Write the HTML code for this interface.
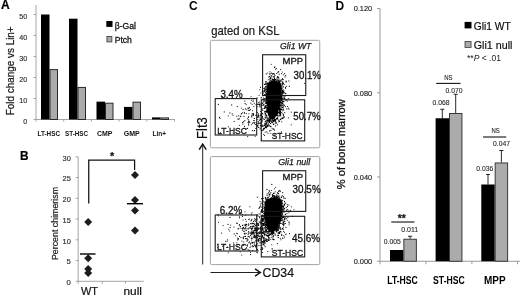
<!DOCTYPE html>
<html><head><meta charset="utf-8"><title>Figure</title>
<style>html,body{margin:0;padding:0;background:#fff}svg{display:block;filter:blur(0.35px);font-family:'Liberation Sans', sans-serif}</style>
</head><body>
<svg width="520" height="297" viewBox="0 0 520 297">
<rect width="520" height="297" fill="#fff"/>
<text x="0.9" y="9.3" font-size="12.06" text-anchor="start" font-weight="bold" stroke="#000" stroke-width="0.2" fill="#000">A</text>
<text x="14" y="70.8" font-size="10.4" text-anchor="middle" textLength="88.8" lengthAdjust="spacingAndGlyphs" transform="rotate(-90 14 70.8)" stroke="#1a1a1a" stroke-width="0.25" fill="#1a1a1a">Fold change vs Lin+</text>
<line x1="36.00" y1="5.00" x2="36.00" y2="119.50" stroke="#8f8f8f" stroke-width="0.8"/>
<line x1="36.00" y1="119.50" x2="175.00" y2="119.50" stroke="#8f8f8f" stroke-width="0.8"/>
<line x1="33.50" y1="119.50" x2="36.00" y2="119.50" stroke="#8f8f8f" stroke-width="0.8"/>
<text x="27.2" y="123.8" font-size="8.11" text-anchor="end" textLength="4" lengthAdjust="spacingAndGlyphs" stroke="#2a2a2a" stroke-width="0.15" fill="#2a2a2a">0</text>
<line x1="33.50" y1="98.50" x2="36.00" y2="98.50" stroke="#8f8f8f" stroke-width="0.8"/>
<text x="27.2" y="102.8" font-size="8.11" text-anchor="end" textLength="8" lengthAdjust="spacingAndGlyphs" stroke="#2a2a2a" stroke-width="0.15" fill="#2a2a2a">10</text>
<line x1="33.50" y1="77.50" x2="36.00" y2="77.50" stroke="#8f8f8f" stroke-width="0.8"/>
<text x="27.2" y="81.8" font-size="8.11" text-anchor="end" textLength="8" lengthAdjust="spacingAndGlyphs" stroke="#2a2a2a" stroke-width="0.15" fill="#2a2a2a">20</text>
<line x1="33.50" y1="56.50" x2="36.00" y2="56.50" stroke="#8f8f8f" stroke-width="0.8"/>
<text x="27.2" y="60.8" font-size="8.11" text-anchor="end" textLength="8" lengthAdjust="spacingAndGlyphs" stroke="#2a2a2a" stroke-width="0.15" fill="#2a2a2a">30</text>
<line x1="33.50" y1="35.50" x2="36.00" y2="35.50" stroke="#8f8f8f" stroke-width="0.8"/>
<text x="27.2" y="39.8" font-size="8.11" text-anchor="end" textLength="8" lengthAdjust="spacingAndGlyphs" stroke="#2a2a2a" stroke-width="0.15" fill="#2a2a2a">40</text>
<line x1="33.50" y1="14.50" x2="36.00" y2="14.50" stroke="#8f8f8f" stroke-width="0.8"/>
<text x="27.2" y="18.8" font-size="8.11" text-anchor="end" textLength="8" lengthAdjust="spacingAndGlyphs" stroke="#2a2a2a" stroke-width="0.15" fill="#2a2a2a">50</text>
<rect x="41.00" y="14.50" width="8.50" height="105.00" fill="#000"/>
<rect x="50.00" y="69.60" width="7.50" height="49.90" fill="#ababab" stroke="#2a2a2a" stroke-width="1.0"/>
<rect x="69.00" y="18.70" width="8.50" height="100.80" fill="#000"/>
<rect x="78.00" y="87.45" width="7.50" height="32.05" fill="#ababab" stroke="#2a2a2a" stroke-width="1.0"/>
<rect x="96.50" y="101.65" width="8.50" height="17.85" fill="#000"/>
<rect x="105.50" y="103.20" width="7.50" height="16.30" fill="#ababab" stroke="#2a2a2a" stroke-width="1.0"/>
<rect x="124.00" y="106.90" width="8.50" height="12.60" fill="#000"/>
<rect x="133.00" y="102.15" width="7.50" height="17.35" fill="#ababab" stroke="#2a2a2a" stroke-width="1.0"/>
<rect x="152.00" y="117.40" width="8.50" height="2.10" fill="#000"/>
<rect x="161.00" y="117.90" width="7.50" height="1.60" fill="#ababab" stroke="#2a2a2a" stroke-width="1.0"/>
<line x1="36.00" y1="119.50" x2="36.00" y2="121.50" stroke="#8f8f8f" stroke-width="0.8"/>
<line x1="63.70" y1="119.50" x2="63.70" y2="121.50" stroke="#8f8f8f" stroke-width="0.8"/>
<line x1="91.40" y1="119.50" x2="91.40" y2="121.50" stroke="#8f8f8f" stroke-width="0.8"/>
<line x1="119.10" y1="119.50" x2="119.10" y2="121.50" stroke="#8f8f8f" stroke-width="0.8"/>
<line x1="146.80" y1="119.50" x2="146.80" y2="121.50" stroke="#8f8f8f" stroke-width="0.8"/>
<line x1="174.50" y1="119.50" x2="174.50" y2="121.50" stroke="#8f8f8f" stroke-width="0.8"/>
<text x="37.5" y="136.3" font-size="7.28" text-anchor="start" font-weight="bold" textLength="22.5" lengthAdjust="spacingAndGlyphs" fill="#111">LT-HSC</text>
<text x="65" y="136.3" font-size="7.28" text-anchor="start" font-weight="bold" textLength="23" lengthAdjust="spacingAndGlyphs" fill="#111">ST-HSC</text>
<text x="97" y="136.3" font-size="7.28" text-anchor="start" font-weight="bold" textLength="15.5" lengthAdjust="spacingAndGlyphs" fill="#111">CMP</text>
<text x="123.8" y="136.3" font-size="7.28" text-anchor="start" font-weight="bold" textLength="16" lengthAdjust="spacingAndGlyphs" fill="#111">GMP</text>
<text x="152.5" y="136.3" font-size="7.28" text-anchor="start" font-weight="bold" textLength="13.5" lengthAdjust="spacingAndGlyphs" fill="#111">Lin+</text>
<rect x="106.30" y="21.00" width="6.20" height="5.90" fill="#000"/>
<text x="114.7" y="28.5" font-size="8.94" text-anchor="start" textLength="21.3" lengthAdjust="spacingAndGlyphs" stroke="#151515" stroke-width="0.3" fill="#151515">β-Gal</text>
<rect x="106.95" y="36.45" width="4.90" height="5.45" fill="#ababab" stroke="#444" stroke-width="0.9"/>
<text x="114.7" y="43.1" font-size="8.94" text-anchor="start" textLength="17.2" lengthAdjust="spacingAndGlyphs" stroke="#151515" stroke-width="0.3" fill="#151515">Ptch</text>
<text x="19.9" y="160" font-size="11.86" text-anchor="start" font-weight="bold" stroke="#000" stroke-width="0.2" fill="#000">B</text>
<text x="58.4" y="223.5" font-size="8.84" text-anchor="middle" textLength="73.1" lengthAdjust="spacingAndGlyphs" transform="rotate(-90 58.4 223.5)" stroke="#1a1a1a" stroke-width="0.2" fill="#1a1a1a">Percent chimerism</text>
<line x1="78.20" y1="156.80" x2="78.20" y2="281.30" stroke="#8f8f8f" stroke-width="0.8"/>
<line x1="78.20" y1="281.30" x2="143.80" y2="281.30" stroke="#8f8f8f" stroke-width="0.8"/>
<line x1="75.70" y1="281.30" x2="78.20" y2="281.30" stroke="#8f8f8f" stroke-width="0.8"/>
<text x="70.8" y="285.2" font-size="8.11" text-anchor="end" textLength="4.3" lengthAdjust="spacingAndGlyphs" stroke="#2a2a2a" stroke-width="0.15" fill="#2a2a2a">0</text>
<line x1="75.70" y1="260.55" x2="78.20" y2="260.55" stroke="#8f8f8f" stroke-width="0.8"/>
<text x="70.8" y="264.45" font-size="8.11" text-anchor="end" textLength="4.3" lengthAdjust="spacingAndGlyphs" stroke="#2a2a2a" stroke-width="0.15" fill="#2a2a2a">5</text>
<line x1="75.70" y1="239.80" x2="78.20" y2="239.80" stroke="#8f8f8f" stroke-width="0.8"/>
<text x="70.8" y="243.70000000000002" font-size="8.11" text-anchor="end" textLength="8.3" lengthAdjust="spacingAndGlyphs" stroke="#2a2a2a" stroke-width="0.15" fill="#2a2a2a">10</text>
<line x1="75.70" y1="219.05" x2="78.20" y2="219.05" stroke="#8f8f8f" stroke-width="0.8"/>
<text x="70.8" y="222.95000000000002" font-size="8.11" text-anchor="end" textLength="8.3" lengthAdjust="spacingAndGlyphs" stroke="#2a2a2a" stroke-width="0.15" fill="#2a2a2a">15</text>
<line x1="75.70" y1="198.30" x2="78.20" y2="198.30" stroke="#8f8f8f" stroke-width="0.8"/>
<text x="70.8" y="202.20000000000002" font-size="8.11" text-anchor="end" textLength="8.3" lengthAdjust="spacingAndGlyphs" stroke="#2a2a2a" stroke-width="0.15" fill="#2a2a2a">20</text>
<line x1="75.70" y1="177.55" x2="78.20" y2="177.55" stroke="#8f8f8f" stroke-width="0.8"/>
<text x="70.8" y="181.45000000000002" font-size="8.11" text-anchor="end" textLength="8.3" lengthAdjust="spacingAndGlyphs" stroke="#2a2a2a" stroke-width="0.15" fill="#2a2a2a">25</text>
<line x1="75.70" y1="156.80" x2="78.20" y2="156.80" stroke="#8f8f8f" stroke-width="0.8"/>
<text x="70.8" y="160.70000000000002" font-size="8.11" text-anchor="end" textLength="8.3" lengthAdjust="spacingAndGlyphs" stroke="#2a2a2a" stroke-width="0.15" fill="#2a2a2a">30</text>
<line x1="78.20" y1="281.30" x2="78.20" y2="283.80" stroke="#8f8f8f" stroke-width="0.8"/>
<line x1="102.20" y1="281.30" x2="102.20" y2="283.80" stroke="#8f8f8f" stroke-width="0.8"/>
<line x1="125.40" y1="281.30" x2="125.40" y2="283.80" stroke="#8f8f8f" stroke-width="0.8"/>
<path d="M84.20 222.00L88.20 218.00L92.20 222.00L88.20 226.00Z" fill="#1c1c1c"/>
<path d="M84.20 258.30L88.20 254.30L92.20 258.30L88.20 262.30Z" fill="#1c1c1c"/>
<path d="M84.20 269.00L88.20 265.00L92.20 269.00L88.20 273.00Z" fill="#1c1c1c"/>
<path d="M84.20 273.00L88.20 269.00L92.20 273.00L88.20 277.00Z" fill="#1c1c1c"/>
<path d="M131.00 175.00L135.00 171.00L139.00 175.00L135.00 179.00Z" fill="#1c1c1c"/>
<path d="M131.00 200.00L135.00 196.00L139.00 200.00L135.00 204.00Z" fill="#1c1c1c"/>
<path d="M131.00 210.50L135.00 206.50L139.00 210.50L135.00 214.50Z" fill="#1c1c1c"/>
<path d="M131.00 230.50L135.00 226.50L139.00 230.50L135.00 234.50Z" fill="#1c1c1c"/>
<line x1="80.00" y1="254.00" x2="95.50" y2="254.00" stroke="#000" stroke-width="1.4"/>
<line x1="127.00" y1="203.70" x2="143.00" y2="203.70" stroke="#000" stroke-width="1.4"/>
<path d="M88.75 203.6V160H134.6V170" fill="none" stroke="#111" stroke-width="1.25"/>
<text x="112.1" y="160.4" font-size="10.92" text-anchor="middle" font-weight="bold" stroke="#111" stroke-width="0.2" fill="#111">*</text>
<text x="81" y="294.7" font-size="10.92" text-anchor="start" textLength="17" lengthAdjust="spacingAndGlyphs" stroke="#111" stroke-width="0.2" fill="#111">WT</text>
<text x="123.5" y="294.7" font-size="10.92" text-anchor="start" textLength="18.5" lengthAdjust="spacingAndGlyphs" stroke="#111" stroke-width="0.2" fill="#111">null</text>
<text x="189" y="9.5" font-size="11.96" text-anchor="start" font-weight="bold" fill="#000">C</text>
<text x="211.3" y="34.5" font-size="11.96" text-anchor="start" textLength="68.2" lengthAdjust="spacingAndGlyphs" stroke="#1a1a1a" stroke-width="0.2" fill="#1a1a1a">gated on KSL</text>
<rect x="210.40" y="40.30" width="109.35" height="107.50" fill="none" stroke="#999" stroke-width="0.9" rx="1.2"/>
<path d="M268.1 103.0h.01M278.4 93.6h.01M267.9 98.3h.01M275.2 110.5h.01M269.2 85.4h.01M276.5 104.0h.01M279.9 109.3h.01M273.5 96.1h.01M285.2 96.0h.01M271.0 87.0h.01M274.1 100.5h.01M272.3 98.3h.01M274.5 106.3h.01M278.4 101.2h.01M265.4 106.4h.01M267.6 97.2h.01M267.3 99.0h.01M270.2 101.2h.01M288.3 98.5h.01M278.3 85.1h.01M272.1 106.0h.01M273.1 102.9h.01M274.8 88.4h.01M276.7 90.5h.01M282.3 93.7h.01M276.8 99.0h.01M278.3 92.7h.01M278.2 97.7h.01M278.9 105.6h.01M274.9 90.8h.01M276.8 103.9h.01M281.2 95.0h.01M275.9 104.3h.01M274.9 101.2h.01M274.9 92.7h.01M269.5 94.8h.01M275.4 114.9h.01M277.4 110.1h.01M276.7 106.3h.01M274.1 107.1h.01M281.8 95.6h.01M269.5 119.6h.01M274.2 109.2h.01M278.3 87.1h.01M283.3 117.6h.01M274.0 106.9h.01M274.9 89.7h.01M273.0 102.9h.01M278.2 106.4h.01M273.1 113.2h.01M269.9 107.3h.01M278.8 95.9h.01M266.4 89.5h.01M274.5 104.5h.01M281.2 88.5h.01M273.3 105.8h.01M274.5 74.1h.01M275.8 123.3h.01M278.7 89.4h.01M271.8 101.3h.01M284.3 105.5h.01M273.3 115.4h.01M272.2 118.5h.01M271.0 94.0h.01M276.0 114.0h.01M276.4 102.2h.01M266.2 91.5h.01M271.4 93.4h.01M276.5 95.5h.01M277.2 99.9h.01M272.2 100.2h.01M275.1 108.0h.01M271.8 96.6h.01M266.7 115.8h.01M280.2 97.1h.01M272.4 86.0h.01M274.4 101.2h.01M283.2 101.6h.01M271.9 73.3h.01M279.8 101.0h.01M266.5 100.9h.01M264.5 135.5h.01M278.3 105.0h.01M274.3 76.5h.01M274.2 82.7h.01M277.7 76.5h.01M269.0 111.8h.01M281.7 86.6h.01M266.4 108.2h.01M278.1 88.6h.01M271.1 91.7h.01M268.9 91.9h.01M278.8 106.2h.01M282.8 98.1h.01M273.8 88.7h.01M274.0 85.2h.01M265.5 106.3h.01M279.5 107.8h.01M279.4 101.6h.01M270.5 99.9h.01M272.8 87.3h.01M267.2 83.4h.01M273.6 100.6h.01M270.8 114.0h.01M274.2 105.1h.01M279.6 90.4h.01M264.6 106.9h.01M269.9 112.8h.01M274.6 109.6h.01M278.4 77.2h.01M277.3 91.9h.01M270.7 94.4h.01M276.6 108.3h.01M279.2 81.6h.01M272.6 74.1h.01M272.9 105.3h.01M270.2 101.6h.01M274.1 109.6h.01M270.6 90.3h.01M269.3 117.4h.01M278.6 97.7h.01M274.7 100.2h.01M274.8 96.8h.01M273.1 85.8h.01M269.9 116.3h.01M276.1 99.7h.01M272.8 99.7h.01M275.7 92.2h.01M274.5 101.5h.01M270.9 90.7h.01M270.0 87.8h.01M279.1 74.2h.01M273.0 92.6h.01M271.0 100.0h.01M278.7 99.8h.01M273.5 92.6h.01M272.6 108.6h.01M272.7 87.0h.01M268.9 87.4h.01M266.9 110.5h.01M275.5 96.5h.01M280.6 92.1h.01M276.5 107.4h.01M267.9 82.7h.01M269.1 108.5h.01M280.2 86.1h.01M278.6 95.0h.01M272.4 93.2h.01M273.5 79.9h.01M270.1 86.0h.01M274.6 120.9h.01M286.0 95.5h.01M266.4 94.7h.01M268.4 119.8h.01M276.7 91.3h.01M277.5 104.6h.01M266.9 93.4h.01M272.7 99.2h.01M274.5 95.4h.01M274.9 92.8h.01M268.8 114.9h.01M275.0 103.6h.01M266.8 97.3h.01M278.2 85.4h.01M278.8 94.9h.01M275.6 97.6h.01M273.9 111.6h.01M271.0 115.4h.01M270.9 89.2h.01M277.5 87.8h.01M271.5 108.5h.01M280.2 80.4h.01M274.8 118.8h.01M279.1 96.5h.01M271.3 95.9h.01M268.8 96.2h.01M273.0 97.5h.01M279.1 96.6h.01M266.7 110.0h.01M269.3 94.3h.01M273.4 95.4h.01M269.5 96.4h.01M283.7 92.6h.01M272.4 110.8h.01M276.5 107.0h.01M278.8 78.3h.01M269.9 100.3h.01M275.1 112.6h.01M276.0 96.5h.01M274.0 96.8h.01M274.4 106.1h.01M272.8 90.5h.01M269.3 110.5h.01M278.8 109.4h.01M277.0 107.7h.01M273.3 106.0h.01M269.2 96.9h.01M270.1 106.6h.01M271.3 97.9h.01M274.6 113.2h.01M270.8 89.1h.01M278.0 87.4h.01M276.1 93.0h.01M274.4 79.9h.01M277.2 93.7h.01M268.5 120.8h.01M274.7 135.8h.01M275.8 95.3h.01M273.2 115.9h.01M273.3 103.7h.01M276.6 89.4h.01M274.6 93.7h.01M267.7 108.2h.01M276.6 99.8h.01M271.0 77.9h.01M275.9 98.0h.01M266.4 98.4h.01M267.1 98.7h.01M274.1 102.7h.01M274.6 100.8h.01M269.0 95.0h.01M271.6 96.5h.01M274.5 105.5h.01M282.6 72.0h.01M275.6 96.9h.01M283.2 108.8h.01M266.2 103.2h.01M270.8 109.4h.01M269.2 97.9h.01M273.2 98.0h.01M272.3 79.7h.01M275.1 109.5h.01M274.1 88.3h.01M274.3 104.9h.01M273.0 98.9h.01M280.6 87.3h.01M272.5 79.0h.01M271.1 91.2h.01M270.0 91.7h.01M281.8 96.9h.01M271.9 122.1h.01M274.6 80.8h.01M276.1 89.2h.01M281.7 85.9h.01M272.2 82.1h.01M274.8 88.3h.01M273.7 95.0h.01M270.4 108.9h.01M277.8 99.7h.01M270.5 87.8h.01M273.4 124.1h.01M272.2 90.8h.01M271.4 87.5h.01M269.6 96.8h.01M280.0 99.0h.01M272.5 82.0h.01M274.7 98.7h.01M269.0 87.6h.01M272.9 109.6h.01M276.4 101.2h.01M272.1 102.4h.01M272.3 121.8h.01M269.0 95.1h.01M279.5 96.2h.01M280.0 98.5h.01M274.6 95.1h.01M268.3 88.8h.01M283.1 105.8h.01M275.8 109.0h.01M275.6 109.7h.01M272.7 96.7h.01M278.3 95.3h.01M268.0 96.6h.01M271.0 105.4h.01M271.2 87.9h.01M271.3 115.3h.01M273.4 100.7h.01M273.6 102.1h.01M276.9 113.7h.01M265.6 113.3h.01M273.9 95.6h.01M284.4 97.2h.01M281.7 109.2h.01M268.9 104.1h.01M277.1 97.7h.01M263.7 95.4h.01M273.6 87.4h.01M281.9 96.4h.01M272.2 95.9h.01M270.8 90.8h.01M274.0 102.3h.01M271.6 98.0h.01M267.3 104.5h.01M270.3 101.3h.01M270.1 93.6h.01M275.4 86.3h.01M284.6 98.6h.01M273.9 91.3h.01M279.9 113.6h.01M275.9 84.6h.01M271.1 105.5h.01M272.2 86.6h.01M269.0 90.9h.01M274.2 92.2h.01M272.1 128.3h.01M282.2 88.1h.01M275.2 99.9h.01M272.5 110.0h.01M272.5 95.6h.01M272.2 97.9h.01M278.9 107.2h.01M268.1 94.4h.01M269.7 107.6h.01M274.2 108.3h.01M274.7 79.0h.01M275.6 101.4h.01M276.8 85.3h.01M274.5 91.8h.01M270.5 102.7h.01M275.9 89.6h.01M267.8 73.0h.01M270.5 110.8h.01M274.9 75.4h.01M269.7 103.4h.01M280.4 111.3h.01M275.2 101.1h.01M269.4 94.3h.01M272.8 90.9h.01M274.3 94.9h.01M274.3 114.1h.01M276.7 103.4h.01M273.6 83.0h.01M272.9 104.7h.01M268.5 112.2h.01M272.0 102.9h.01M273.1 85.8h.01M283.6 86.8h.01M278.1 93.2h.01M275.5 90.5h.01M271.3 108.7h.01M282.8 90.1h.01M273.2 108.9h.01M270.5 106.5h.01M269.9 105.3h.01M274.9 111.7h.01M276.1 86.5h.01M277.4 87.4h.01M276.1 114.9h.01M276.7 93.2h.01M278.9 100.8h.01M268.5 95.3h.01M280.2 95.8h.01M274.5 95.4h.01M266.6 93.6h.01M275.2 101.2h.01M274.3 76.6h.01M278.7 106.6h.01M277.4 112.7h.01M272.2 92.7h.01M274.1 116.6h.01M266.5 96.6h.01M270.2 104.9h.01M280.4 95.9h.01M268.3 99.5h.01M273.5 82.8h.01M278.0 93.5h.01M277.6 85.2h.01M279.5 83.9h.01M279.5 80.0h.01M280.0 95.1h.01M267.0 96.5h.01M275.8 88.6h.01M271.4 101.8h.01M274.9 66.8h.01M271.6 103.5h.01M274.4 109.6h.01M269.1 125.8h.01M277.1 102.3h.01M277.9 109.0h.01M274.6 92.5h.01M278.0 103.4h.01M266.1 87.4h.01M275.7 100.1h.01M274.6 105.7h.01M273.4 115.6h.01M271.4 94.8h.01M274.7 106.8h.01M276.3 114.6h.01M270.9 111.3h.01M276.5 88.1h.01M271.8 120.9h.01M277.5 94.1h.01M263.6 91.3h.01M270.6 99.8h.01M283.4 106.8h.01M275.7 89.2h.01M268.7 96.8h.01M269.8 130.6h.01M272.3 92.5h.01M278.7 99.8h.01M267.5 112.5h.01M273.2 85.0h.01M274.8 104.1h.01M271.8 106.3h.01M277.9 89.7h.01M266.2 73.9h.01M272.4 111.9h.01M277.3 113.6h.01M281.9 99.2h.01M279.3 82.9h.01M276.5 103.1h.01M273.6 94.4h.01M268.7 100.5h.01M279.6 95.1h.01M276.5 92.0h.01M275.5 88.4h.01M275.5 96.7h.01M275.5 92.6h.01M268.8 95.5h.01M277.3 115.6h.01M271.8 107.4h.01M276.8 103.1h.01M266.7 102.4h.01M268.7 111.4h.01M276.8 105.5h.01M262.2 105.5h.01M277.6 85.6h.01M278.0 99.8h.01M273.4 91.5h.01M269.5 94.4h.01M287.2 101.1h.01M275.1 92.2h.01M271.4 93.2h.01M269.3 108.2h.01M272.0 108.1h.01M268.1 108.8h.01M273.2 106.0h.01M273.8 89.7h.01M279.3 94.4h.01M273.7 89.7h.01M274.9 94.9h.01M274.8 102.6h.01M271.6 84.2h.01M275.1 108.6h.01M277.5 87.0h.01M276.2 103.0h.01M274.7 103.5h.01M272.2 101.3h.01M278.1 93.7h.01M267.5 97.9h.01M275.8 79.6h.01M270.4 105.2h.01M273.0 100.0h.01M267.6 108.5h.01M281.6 96.9h.01M271.2 86.8h.01M277.6 100.1h.01M269.5 111.7h.01M276.7 105.3h.01M266.1 97.9h.01M277.3 86.1h.01M276.9 114.0h.01M278.7 91.4h.01M270.0 108.9h.01M277.3 111.9h.01M279.1 98.0h.01M273.1 79.5h.01M275.8 122.9h.01M272.0 94.0h.01M276.4 102.9h.01M268.2 91.5h.01M267.6 120.2h.01M270.0 108.0h.01M281.0 118.9h.01M279.0 116.1h.01M268.5 95.4h.01M270.7 96.0h.01M286.3 81.4h.01M277.0 86.0h.01M278.8 112.6h.01M270.2 120.7h.01M273.2 112.7h.01M275.5 93.1h.01M272.1 97.8h.01M276.4 100.3h.01M284.2 97.0h.01M272.1 91.4h.01M271.2 83.9h.01M268.8 108.5h.01M274.1 97.2h.01M274.6 110.2h.01M276.0 107.1h.01M271.4 96.3h.01M270.4 98.0h.01M270.4 95.1h.01M273.1 96.7h.01M272.9 93.8h.01M279.7 95.4h.01M269.2 101.0h.01M269.6 87.7h.01M275.2 81.5h.01M259.4 102.0h.01M279.3 81.5h.01M269.4 105.1h.01M265.5 89.8h.01M268.6 96.9h.01M264.5 108.4h.01M272.9 102.2h.01M273.6 76.7h.01M273.9 84.9h.01M274.3 90.0h.01M272.5 96.8h.01M276.7 107.1h.01M269.3 98.8h.01M279.9 104.2h.01M270.6 97.7h.01M271.6 108.9h.01M273.7 102.9h.01M284.3 84.5h.01M270.4 80.8h.01M266.2 108.0h.01M274.0 116.1h.01M265.6 89.7h.01M279.4 109.8h.01M277.1 108.2h.01M273.9 98.9h.01M273.4 107.8h.01M272.8 102.4h.01M280.8 87.2h.01M270.1 104.9h.01M272.7 97.4h.01M282.7 103.4h.01M271.2 110.5h.01M285.5 87.4h.01M270.7 100.2h.01M269.6 121.8h.01M276.3 94.8h.01M276.4 90.6h.01M271.0 100.1h.01M285.7 75.4h.01M274.7 113.2h.01M275.8 119.2h.01M275.6 100.5h.01M273.7 90.0h.01M281.7 86.6h.01M273.5 93.5h.01M271.7 75.7h.01M272.0 100.4h.01M273.8 107.9h.01M273.4 92.3h.01M274.7 106.0h.01M270.7 83.0h.01M268.6 110.1h.01M278.7 89.7h.01M273.7 107.8h.01M280.0 92.1h.01M271.8 113.8h.01M283.4 115.1h.01M268.4 103.7h.01M272.5 98.4h.01M271.1 94.0h.01M272.6 117.9h.01M276.5 103.5h.01M274.3 91.1h.01M272.0 112.0h.01M276.2 119.6h.01M274.9 98.8h.01M266.4 103.2h.01M265.2 115.0h.01M271.0 99.0h.01M268.1 93.8h.01M268.9 110.9h.01M275.6 86.6h.01M265.3 98.3h.01M272.3 87.3h.01M276.5 97.1h.01M274.6 92.8h.01M271.5 94.2h.01M266.3 105.6h.01M276.6 80.9h.01M273.5 111.1h.01M274.0 112.6h.01M272.6 99.0h.01M268.6 89.5h.01M266.3 89.6h.01M274.5 104.5h.01M278.8 100.4h.01M269.1 103.5h.01M272.0 117.7h.01M281.8 109.1h.01M269.1 93.5h.01M275.0 91.5h.01M275.6 106.2h.01M277.3 101.4h.01M270.4 90.2h.01M272.4 112.9h.01M280.1 109.3h.01M274.9 106.1h.01M276.5 112.6h.01M278.5 82.9h.01M277.7 103.0h.01M271.4 104.5h.01M275.0 98.4h.01M266.2 100.2h.01M276.2 98.5h.01M266.5 103.8h.01M276.8 100.9h.01M275.8 95.3h.01M270.5 104.5h.01M272.1 100.9h.01M287.6 106.5h.01M275.4 82.0h.01M273.7 107.0h.01M270.8 96.5h.01M263.5 104.8h.01M270.7 106.2h.01M279.8 97.3h.01M277.9 101.6h.01M273.0 96.1h.01M269.2 112.5h.01M278.2 88.4h.01M277.9 91.3h.01M266.4 111.6h.01M267.4 111.4h.01M274.0 108.5h.01M275.3 111.1h.01M274.9 105.1h.01M274.1 110.5h.01M271.4 109.7h.01M280.4 98.3h.01M276.0 93.6h.01M272.3 101.7h.01M272.8 89.7h.01M273.5 101.0h.01M274.7 106.5h.01M265.0 113.8h.01M273.5 90.9h.01M271.8 103.6h.01M277.8 95.2h.01M275.4 82.2h.01M274.6 97.8h.01M271.3 108.3h.01M281.0 109.8h.01M269.3 115.0h.01M272.3 98.6h.01M270.9 103.8h.01M276.1 100.5h.01M272.9 97.5h.01M271.4 109.2h.01M271.5 97.5h.01M273.3 91.1h.01M273.7 83.6h.01M275.2 104.7h.01M271.4 115.3h.01M269.8 104.8h.01M276.2 93.4h.01M272.1 108.3h.01M273.8 102.0h.01M279.7 101.3h.01M266.9 91.3h.01M277.5 97.7h.01M270.3 78.3h.01M274.2 114.7h.01M269.6 76.3h.01M276.3 93.3h.01M272.7 95.6h.01M269.5 103.6h.01M277.5 102.8h.01M270.7 109.9h.01M272.9 105.1h.01M269.2 105.9h.01M276.2 112.5h.01M273.6 103.6h.01M270.7 108.2h.01M276.5 110.3h.01M272.8 86.3h.01M273.6 96.8h.01M270.1 105.3h.01M277.6 103.1h.01M278.3 103.1h.01M269.9 92.9h.01M271.8 106.1h.01M277.7 100.4h.01M278.7 90.5h.01M272.3 114.6h.01M275.0 109.9h.01M266.6 81.7h.01M269.4 109.5h.01M281.2 92.6h.01M270.1 88.5h.01M269.5 104.8h.01M271.2 118.5h.01M277.3 91.9h.01M274.9 97.4h.01M276.6 108.4h.01M271.7 108.3h.01M276.3 98.1h.01M274.4 106.1h.01M272.8 92.0h.01M279.2 99.1h.01M270.9 103.8h.01M267.3 99.6h.01M268.1 94.6h.01M266.5 91.6h.01M277.7 97.2h.01M267.4 117.0h.01M270.1 114.4h.01M272.4 83.9h.01M282.0 94.6h.01M276.3 111.3h.01M268.0 99.8h.01M270.9 105.3h.01M274.5 86.0h.01M273.5 106.9h.01M272.1 104.9h.01M271.5 98.5h.01M275.2 100.5h.01M278.7 108.8h.01M277.0 106.5h.01M275.2 87.1h.01M277.3 117.0h.01M274.9 96.5h.01M272.9 111.5h.01M275.6 89.0h.01M273.5 91.2h.01M273.5 89.9h.01M269.1 114.3h.01M279.3 82.5h.01M269.8 94.5h.01M272.9 84.9h.01M278.6 82.5h.01M276.3 106.2h.01M272.6 92.3h.01M273.9 100.6h.01M265.5 86.2h.01M276.1 98.0h.01M272.6 88.9h.01M271.2 91.2h.01M286.6 86.2h.01M280.1 104.0h.01M274.6 101.1h.01M271.1 115.6h.01M276.0 98.8h.01M273.1 101.1h.01M269.1 95.8h.01M270.7 105.4h.01M277.5 79.9h.01M272.2 109.2h.01M268.9 86.9h.01M278.2 97.8h.01M272.6 86.6h.01M274.8 93.4h.01M274.4 103.5h.01M277.0 95.8h.01M271.5 99.4h.01M273.2 100.9h.01M271.6 96.6h.01M271.6 93.0h.01M273.7 110.9h.01M271.1 105.1h.01M275.2 100.2h.01M277.0 93.4h.01M276.0 102.2h.01M258.5 102.7h.01M275.1 119.2h.01M269.1 100.1h.01M275.9 89.1h.01M278.7 103.7h.01M271.1 86.8h.01M270.5 123.5h.01M284.6 73.6h.01M265.5 105.9h.01M273.7 92.6h.01M276.3 100.1h.01M274.8 101.8h.01M268.3 112.6h.01M271.1 110.7h.01M276.7 99.5h.01M274.4 98.6h.01M266.0 95.7h.01M276.6 82.5h.01M266.7 110.2h.01M278.2 83.2h.01M275.8 98.6h.01M278.2 95.7h.01M273.3 91.3h.01M274.6 97.8h.01M271.2 95.5h.01M270.1 105.5h.01M270.3 83.0h.01M268.9 110.2h.01M271.2 105.7h.01M277.3 93.8h.01M276.7 104.3h.01M274.0 91.8h.01M274.3 85.8h.01M272.9 93.1h.01M275.4 102.6h.01M270.4 108.0h.01M278.9 99.7h.01M270.2 104.3h.01M263.5 93.0h.01M275.0 119.8h.01M269.6 114.9h.01M282.7 118.6h.01M262.8 110.4h.01M274.0 109.6h.01M273.4 92.7h.01M271.8 114.6h.01M277.6 96.0h.01M274.9 108.0h.01M276.2 98.6h.01M271.4 91.3h.01M272.2 93.3h.01M267.8 84.4h.01M278.3 87.4h.01M268.1 98.6h.01M279.3 112.2h.01M272.6 88.3h.01M272.0 89.6h.01M271.1 104.0h.01M269.6 90.9h.01M272.6 98.7h.01M270.9 90.8h.01M269.3 91.2h.01M276.2 96.5h.01M259.8 105.5h.01M274.0 89.9h.01M274.5 67.4h.01M265.8 111.2h.01M281.7 121.8h.01M270.5 99.4h.01M277.9 86.2h.01M281.8 91.5h.01M276.0 87.0h.01M275.4 98.8h.01M279.2 86.9h.01M272.6 118.1h.01M268.3 102.7h.01M276.0 93.8h.01M271.7 113.8h.01M278.4 105.0h.01M275.6 87.1h.01M273.0 117.8h.01M279.2 84.8h.01M265.1 92.0h.01M274.8 93.2h.01M272.2 102.6h.01M277.6 101.2h.01M280.1 84.1h.01M275.5 103.5h.01M266.4 112.2h.01M267.6 83.8h.01M284.7 112.6h.01M274.5 113.2h.01M279.5 87.1h.01M275.0 113.7h.01M273.0 99.8h.01M271.2 106.7h.01M271.7 92.8h.01M268.9 89.2h.01M274.4 104.0h.01M272.7 88.0h.01M275.0 102.8h.01M279.7 93.8h.01M271.6 104.4h.01M280.5 98.5h.01M274.0 89.1h.01M271.5 109.0h.01M276.8 110.8h.01M266.0 107.9h.01M269.3 105.3h.01M263.3 98.0h.01M269.0 112.5h.01M273.5 112.8h.01M270.5 119.8h.01M270.6 119.1h.01M272.2 88.6h.01M278.0 94.8h.01M274.3 84.8h.01M272.1 100.2h.01M270.4 103.2h.01M263.0 108.5h.01M271.0 114.6h.01M272.6 92.1h.01M271.6 102.0h.01M276.7 94.1h.01M269.9 103.6h.01M278.5 80.5h.01M269.5 91.9h.01M280.6 112.1h.01M277.0 104.3h.01M268.1 110.9h.01M272.3 90.6h.01M283.3 83.6h.01M279.8 101.2h.01M269.5 100.9h.01M269.9 101.0h.01M271.6 86.4h.01M285.9 93.7h.01M278.2 98.5h.01M277.6 85.6h.01M271.2 64.2h.01M277.9 103.7h.01M268.0 107.9h.01M274.5 130.1h.01M274.2 108.8h.01M276.0 107.2h.01M273.9 94.6h.01M276.1 112.2h.01M269.3 86.9h.01M272.4 118.2h.01M273.9 81.0h.01M276.9 107.1h.01M282.3 101.1h.01M283.0 91.4h.01M277.7 100.5h.01M268.6 96.1h.01M279.0 110.9h.01M271.4 110.8h.01M277.2 108.6h.01M274.8 102.3h.01M270.1 98.3h.01M274.8 91.2h.01M272.4 100.8h.01M274.0 110.3h.01M269.4 94.8h.01M275.2 95.0h.01M275.5 94.1h.01M279.2 96.6h.01M268.2 107.0h.01M282.4 78.6h.01M273.1 99.8h.01M277.4 115.0h.01M274.1 82.5h.01M276.1 109.8h.01M275.8 99.9h.01M268.6 125.0h.01M269.4 83.1h.01M277.9 102.1h.01M276.5 102.9h.01M280.4 114.2h.01M270.7 109.7h.01M269.6 81.0h.01M279.4 94.5h.01M264.2 98.9h.01M270.5 104.5h.01M274.0 90.9h.01M270.1 107.2h.01M269.6 100.4h.01M269.1 103.9h.01M281.3 105.1h.01M278.4 103.9h.01M269.7 95.9h.01M273.8 103.7h.01M270.7 105.6h.01M270.5 99.8h.01M274.5 86.9h.01M278.2 99.6h.01M274.3 98.7h.01M265.3 84.2h.01M269.2 109.6h.01M270.8 105.5h.01M269.7 90.1h.01M271.0 110.3h.01M266.5 97.2h.01M275.5 100.5h.01M273.2 107.3h.01M275.7 88.4h.01M277.1 90.8h.01M271.3 114.4h.01M283.7 114.5h.01M276.2 90.8h.01M269.3 116.7h.01M276.1 84.4h.01M280.4 105.2h.01M279.4 103.4h.01M264.7 91.3h.01M273.2 97.3h.01M280.9 92.0h.01M273.4 98.5h.01M274.0 88.1h.01M270.0 71.8h.01M275.4 96.9h.01M275.3 87.9h.01M274.4 88.8h.01M269.1 102.6h.01M276.2 105.2h.01M273.8 95.0h.01M279.2 112.2h.01M271.6 87.6h.01M275.2 102.4h.01M268.3 123.2h.01M265.0 90.2h.01M274.2 109.5h.01M265.8 94.5h.01M279.2 113.9h.01M272.6 99.5h.01M269.6 103.2h.01M270.4 77.6h.01M267.0 99.6h.01M267.2 110.8h.01M278.8 109.6h.01M275.9 111.1h.01M274.4 108.2h.01M275.3 107.3h.01M269.7 92.1h.01M268.8 107.8h.01M276.5 90.7h.01M269.7 93.0h.01M277.7 97.9h.01M273.1 91.8h.01M272.2 116.0h.01M270.9 95.3h.01M280.8 106.7h.01M268.0 110.6h.01M267.8 105.0h.01M263.2 88.5h.01M278.2 92.8h.01M270.5 99.6h.01M274.1 94.1h.01M269.6 118.1h.01M280.2 102.6h.01M269.0 93.5h.01M272.2 104.2h.01M281.2 93.6h.01M274.7 94.5h.01M274.8 91.8h.01M274.7 111.3h.01M272.2 95.6h.01M275.1 85.2h.01M282.6 84.9h.01M272.7 89.7h.01M280.7 93.9h.01M270.3 119.1h.01M273.7 90.9h.01M273.6 101.1h.01M270.6 97.1h.01M272.4 106.7h.01M276.6 107.9h.01M272.7 107.5h.01M272.1 111.3h.01M275.8 94.6h.01M280.2 83.1h.01M270.0 90.7h.01M274.0 86.1h.01M269.6 79.1h.01M274.8 91.0h.01M283.0 107.3h.01M267.9 113.0h.01M273.6 110.5h.01M268.1 111.3h.01M278.9 94.7h.01M270.2 95.1h.01M273.4 124.5h.01M280.8 114.9h.01M273.0 95.6h.01M275.6 96.2h.01M271.8 96.9h.01M277.6 98.4h.01M275.0 96.3h.01M273.1 95.6h.01M279.2 101.5h.01M280.5 97.3h.01M279.4 84.5h.01M272.0 98.4h.01M271.0 97.9h.01M269.8 97.4h.01M270.8 99.0h.01M273.1 88.5h.01M271.9 99.4h.01M268.1 100.1h.01M279.4 96.7h.01M275.8 105.7h.01M269.4 113.0h.01M285.5 88.3h.01M283.7 91.6h.01M281.4 80.0h.01M278.7 100.5h.01M268.6 90.4h.01M269.7 89.6h.01M275.6 97.2h.01M262.9 95.8h.01M275.8 100.0h.01M282.4 79.7h.01M274.8 99.4h.01M277.8 84.9h.01M268.1 97.3h.01M275.3 80.0h.01M275.4 99.0h.01M278.7 71.5h.01M276.6 89.7h.01M271.2 107.3h.01M281.2 100.7h.01M272.5 112.9h.01M269.9 97.4h.01M272.2 88.7h.01M273.3 120.6h.01M274.5 104.3h.01M272.9 111.0h.01M275.1 89.8h.01M273.3 114.3h.01M272.6 111.7h.01M272.2 120.5h.01M274.6 106.0h.01M272.0 107.9h.01M273.7 83.4h.01M275.9 86.3h.01M279.8 107.4h.01M273.4 106.4h.01M261.3 115.3h.01M270.5 106.2h.01M286.1 82.0h.01M271.7 102.7h.01M276.7 81.2h.01M268.7 114.8h.01M270.8 104.9h.01M268.3 89.4h.01M265.5 101.9h.01M278.8 100.1h.01M272.4 101.6h.01M276.0 96.0h.01M275.0 119.7h.01M284.0 93.0h.01M267.0 119.3h.01M277.3 111.9h.01M276.6 96.7h.01M277.4 110.9h.01M279.7 87.6h.01M278.6 95.4h.01M272.0 102.8h.01M270.8 123.6h.01M276.1 101.9h.01M272.8 101.7h.01M272.4 105.2h.01M277.1 108.0h.01M268.4 95.6h.01M274.9 86.2h.01M275.5 97.6h.01M273.8 103.1h.01M270.0 115.5h.01M278.7 93.3h.01M275.4 107.0h.01M270.6 95.3h.01M278.5 71.9h.01M267.7 102.6h.01M277.1 89.3h.01M276.2 122.5h.01M274.7 98.7h.01M274.7 88.4h.01M276.1 101.0h.01M276.2 114.2h.01M273.8 101.0h.01M274.1 117.5h.01M267.3 99.1h.01M270.9 100.5h.01M277.4 99.9h.01M276.9 101.1h.01M271.0 92.2h.01M267.5 101.5h.01M271.5 108.0h.01M278.6 89.8h.01M268.6 105.5h.01M269.8 101.3h.01M276.7 95.1h.01M282.1 90.9h.01M275.9 94.8h.01M261.2 97.3h.01M272.7 105.2h.01M273.7 91.4h.01M271.7 95.9h.01M277.3 96.2h.01M278.7 108.2h.01M269.9 110.0h.01M263.8 99.4h.01M269.5 98.1h.01M278.9 99.1h.01M272.2 112.6h.01M270.9 90.4h.01M277.7 105.6h.01M267.4 100.7h.01M277.3 97.4h.01M271.9 100.6h.01M275.2 91.7h.01M278.5 82.5h.01M272.1 121.7h.01M269.1 98.7h.01M264.3 90.4h.01M268.7 99.8h.01M270.4 118.5h.01M269.7 98.8h.01M274.3 105.9h.01M278.7 82.6h.01M283.7 95.9h.01M271.7 81.8h.01M272.9 80.4h.01M275.0 92.8h.01M275.7 90.8h.01M272.7 122.6h.01M278.8 100.8h.01M268.5 114.5h.01M267.2 84.2h.01M279.9 92.8h.01M279.4 105.1h.01M282.3 117.9h.01M276.8 92.5h.01M275.5 113.9h.01M276.2 68.6h.01M272.3 95.2h.01M273.7 95.4h.01M279.6 85.7h.01M277.0 78.2h.01M264.8 88.4h.01M271.0 89.6h.01M270.3 105.5h.01M276.3 99.9h.01M275.1 91.7h.01M270.3 84.1h.01M272.6 87.1h.01M271.9 106.7h.01M275.3 113.0h.01M271.0 75.9h.01M267.6 120.0h.01M277.1 94.4h.01M279.8 94.7h.01M281.4 94.8h.01M271.5 106.4h.01M268.8 97.3h.01M282.0 103.6h.01M269.0 96.4h.01M274.1 91.0h.01M274.8 112.1h.01M273.4 108.3h.01M275.0 100.5h.01M269.8 109.1h.01M280.0 94.3h.01M269.5 104.5h.01M273.5 110.9h.01M276.0 97.6h.01M267.2 105.5h.01M275.0 85.7h.01M268.3 79.8h.01M276.8 94.4h.01M259.7 89.7h.01M271.0 97.8h.01M274.1 95.4h.01M276.4 109.8h.01M271.8 115.6h.01M273.7 89.9h.01M275.3 83.9h.01M273.1 87.8h.01M271.7 101.1h.01M262.7 103.1h.01M275.0 96.7h.01M276.7 102.6h.01M272.8 88.4h.01M276.5 107.0h.01M267.7 91.3h.01M268.0 107.7h.01M272.0 85.8h.01M280.1 103.8h.01M274.6 101.5h.01M272.9 99.3h.01M277.4 103.6h.01M271.6 100.0h.01M282.3 93.1h.01M267.8 100.2h.01M267.0 126.6h.01M276.1 105.1h.01M274.1 119.7h.01M269.3 98.4h.01M265.6 112.0h.01M272.3 117.6h.01M273.2 87.9h.01M270.1 107.4h.01M269.9 101.7h.01M271.0 91.4h.01M270.2 116.1h.01M268.8 102.3h.01M277.7 91.1h.01M266.1 114.8h.01M281.5 96.3h.01M267.9 108.1h.01M274.1 90.2h.01M273.5 73.7h.01M270.9 86.0h.01M267.5 105.1h.01M273.8 116.8h.01M262.2 91.8h.01M269.1 112.9h.01M278.2 100.1h.01M274.6 90.9h.01M271.7 94.1h.01M261.3 118.9h.01M275.6 120.9h.01M278.8 104.1h.01M278.5 81.0h.01M268.6 107.9h.01M273.0 81.7h.01M274.4 85.2h.01M272.7 115.4h.01M268.9 94.1h.01M276.1 98.5h.01M275.0 89.9h.01M273.7 73.5h.01M272.1 112.4h.01M268.8 96.8h.01M276.0 111.8h.01M279.4 89.4h.01M270.7 117.4h.01M271.4 101.8h.01M270.3 91.8h.01M260.8 93.0h.01M264.5 88.0h.01M268.4 113.2h.01M276.8 103.0h.01M272.2 84.0h.01M276.3 90.0h.01M272.5 108.8h.01M272.8 98.5h.01M268.5 109.9h.01M275.6 106.3h.01M281.9 81.5h.01M273.4 105.6h.01M274.9 102.0h.01M276.7 82.4h.01M272.6 111.1h.01M273.5 96.6h.01M278.5 80.1h.01M274.4 114.9h.01M273.0 90.0h.01M276.3 93.9h.01M269.9 100.5h.01M265.8 105.9h.01M268.6 92.9h.01M276.9 98.4h.01M273.9 113.4h.01M279.1 120.9h.01M270.6 108.5h.01M265.8 107.3h.01M279.9 91.0h.01M275.2 107.7h.01M273.3 91.9h.01M281.2 84.7h.01M273.8 108.9h.01M273.7 115.6h.01M279.9 103.7h.01M281.1 106.7h.01M268.4 95.3h.01M274.7 100.8h.01M264.6 123.2h.01M267.4 86.7h.01M275.5 100.9h.01M280.4 101.1h.01M274.9 106.5h.01M271.2 85.0h.01M270.9 109.6h.01M271.6 112.1h.01M270.7 106.8h.01M273.2 107.7h.01M273.6 100.9h.01M270.8 112.1h.01M273.2 104.1h.01M277.1 89.3h.01M270.0 98.3h.01M280.0 87.5h.01M269.8 88.3h.01M272.6 87.4h.01M269.7 104.4h.01M268.8 98.7h.01M268.5 96.7h.01M277.3 77.5h.01M273.8 101.2h.01M273.2 101.5h.01M276.3 85.0h.01M272.7 105.7h.01M280.3 84.3h.01M271.9 84.3h.01M274.3 87.4h.01M268.8 107.0h.01M285.0 76.9h.01M281.6 89.1h.01M276.5 102.6h.01M279.3 96.6h.01M270.0 98.2h.01M277.8 89.3h.01M275.5 98.7h.01M274.5 98.9h.01M275.8 107.4h.01M272.6 95.1h.01M264.7 89.5h.01M266.5 106.0h.01M269.3 91.4h.01M275.4 109.4h.01M279.6 89.8h.01M274.1 110.2h.01M270.1 96.4h.01M268.7 92.0h.01M276.8 99.8h.01M272.4 92.9h.01M280.0 106.9h.01M266.8 121.8h.01M271.9 97.2h.01M271.9 92.8h.01M277.5 83.5h.01M274.0 95.4h.01M281.2 103.0h.01M275.3 104.4h.01M276.3 100.2h.01M262.5 103.4h.01M271.8 106.3h.01M275.4 93.1h.01M270.4 88.1h.01M275.0 97.8h.01M270.0 95.0h.01M275.7 91.8h.01M273.5 92.4h.01M262.1 99.8h.01M273.5 107.5h.01M279.9 91.2h.01M276.2 101.7h.01M273.5 107.7h.01M278.4 85.5h.01M280.4 97.0h.01M271.2 91.6h.01M273.4 87.0h.01M278.2 103.4h.01M269.2 107.6h.01M274.7 99.8h.01M278.0 97.9h.01M272.2 104.2h.01M266.3 86.2h.01M275.3 110.2h.01M266.2 99.0h.01M270.9 95.9h.01M275.4 114.7h.01M280.9 108.9h.01M276.4 100.4h.01M265.2 103.1h.01M269.1 87.1h.01M275.2 82.2h.01M281.2 105.3h.01M275.0 104.0h.01M274.7 99.6h.01M277.3 91.8h.01M274.8 100.7h.01M277.8 87.3h.01M274.9 97.5h.01M276.2 104.6h.01M274.2 103.8h.01M274.8 113.3h.01M274.7 104.6h.01M269.7 96.7h.01M276.4 110.0h.01M269.4 98.5h.01M272.5 99.5h.01M271.9 94.4h.01M273.4 100.2h.01M278.7 89.9h.01M269.0 107.2h.01M276.0 96.9h.01M267.9 110.0h.01M268.2 110.8h.01M274.9 97.3h.01M272.4 107.5h.01M274.9 80.6h.01M272.0 76.3h.01M274.9 108.7h.01M279.1 84.7h.01M281.9 118.1h.01M274.5 78.0h.01M269.2 109.9h.01M283.2 93.2h.01M266.2 88.7h.01M282.2 98.9h.01M268.8 76.9h.01M276.0 107.4h.01M271.7 96.8h.01M274.3 95.3h.01M271.6 92.8h.01M270.3 111.9h.01M274.8 109.7h.01M283.3 74.8h.01M272.8 109.0h.01M273.1 92.6h.01M275.8 93.3h.01M270.2 95.7h.01M273.9 99.0h.01M277.7 99.1h.01M269.7 131.0h.01M272.9 96.1h.01M273.5 91.5h.01M266.6 100.9h.01M281.3 79.7h.01M270.1 103.4h.01M270.4 104.5h.01M274.2 87.3h.01M273.1 93.5h.01M277.7 72.2h.01M274.7 112.9h.01M274.2 101.4h.01M271.1 102.4h.01M273.9 85.4h.01M269.9 74.5h.01M275.5 100.7h.01M278.3 101.6h.01M277.6 84.8h.01M265.8 92.9h.01M272.0 102.7h.01M273.2 97.1h.01M273.7 101.6h.01M274.4 102.2h.01M271.5 97.9h.01M267.9 87.2h.01M272.2 103.4h.01M271.3 84.1h.01M278.4 90.1h.01M266.7 88.7h.01M270.0 73.4h.01M270.9 116.6h.01M270.9 90.3h.01M278.7 99.8h.01M272.4 113.2h.01M268.5 98.3h.01M275.8 101.0h.01M269.1 89.1h.01M281.6 97.9h.01M271.9 110.2h.01M265.8 98.3h.01M265.1 113.5h.01M269.3 100.1h.01M269.6 100.3h.01M275.1 99.0h.01M272.1 101.5h.01M273.0 93.6h.01M275.9 107.9h.01M268.4 88.3h.01M270.1 102.0h.01M266.5 115.2h.01M273.8 100.5h.01M278.0 91.1h.01M275.1 103.2h.01M280.1 87.9h.01M279.4 105.2h.01M274.1 110.1h.01M272.7 96.9h.01M277.6 95.3h.01M277.6 113.4h.01M274.6 100.8h.01M271.5 89.3h.01M280.7 88.1h.01M273.9 102.1h.01M270.2 91.8h.01M269.3 121.2h.01M274.5 113.6h.01M282.0 109.6h.01M279.8 94.4h.01M269.8 114.2h.01M280.8 88.3h.01M278.6 102.1h.01M276.7 109.2h.01M282.5 92.5h.01M273.0 112.3h.01M272.3 104.8h.01M274.5 81.3h.01M270.8 108.4h.01M272.4 83.0h.01M271.5 100.2h.01M275.7 102.6h.01M276.8 88.1h.01M271.6 91.1h.01M271.6 103.8h.01M279.8 96.7h.01M277.8 110.8h.01M269.3 90.6h.01M275.3 84.7h.01M283.2 79.6h.01M267.9 107.4h.01M270.1 106.7h.01M268.8 110.3h.01M270.8 106.8h.01M279.2 83.5h.01M271.0 80.9h.01M268.4 108.9h.01M273.2 108.1h.01M279.4 110.1h.01M277.3 94.8h.01M271.9 102.6h.01M277.0 110.7h.01M275.3 96.2h.01M272.5 116.7h.01M273.8 120.3h.01M270.2 108.5h.01M274.3 107.3h.01M270.3 102.9h.01M273.8 96.4h.01M269.5 84.5h.01M272.1 105.1h.01M274.9 101.9h.01M276.1 85.2h.01M278.5 100.1h.01M270.9 93.6h.01M278.1 101.4h.01M265.3 121.4h.01M266.3 117.3h.01M278.2 88.9h.01M278.5 112.6h.01M278.0 106.2h.01M275.2 101.7h.01M271.4 102.3h.01M279.6 98.3h.01M283.5 83.2h.01M275.0 83.9h.01M266.0 102.1h.01M272.8 93.6h.01M269.4 97.0h.01M266.9 97.4h.01M272.4 86.4h.01M276.9 80.0h.01M275.6 102.2h.01M276.1 100.8h.01M277.5 96.7h.01M268.9 103.4h.01M270.7 95.7h.01M275.0 89.7h.01M279.2 83.4h.01M279.3 99.1h.01M280.6 111.0h.01M276.7 102.5h.01M275.3 85.1h.01M272.0 89.6h.01M270.9 98.1h.01M270.3 100.9h.01M273.1 94.5h.01M275.3 104.3h.01M268.2 96.2h.01M286.7 99.6h.01M276.5 90.2h.01M277.2 115.5h.01M276.5 98.1h.01M275.2 79.6h.01M276.7 96.2h.01M275.4 103.3h.01M273.5 121.4h.01M278.3 92.6h.01M276.2 106.0h.01M273.2 114.2h.01M273.4 81.2h.01M269.0 103.5h.01M269.5 101.0h.01M267.0 103.4h.01M273.3 89.9h.01M271.6 96.6h.01M277.7 101.9h.01M272.9 101.1h.01M277.5 104.3h.01M282.0 91.9h.01M277.4 100.7h.01M270.8 105.7h.01M276.9 109.6h.01M276.6 90.3h.01M274.4 103.4h.01M281.1 100.7h.01M273.6 115.7h.01M274.5 94.8h.01M274.7 107.5h.01M275.6 82.0h.01M271.5 109.9h.01M270.1 108.4h.01M275.1 91.1h.01M278.7 77.1h.01M265.7 83.3h.01M276.4 96.6h.01M276.7 98.6h.01M274.8 94.0h.01M271.6 109.7h.01M278.1 85.6h.01M275.1 120.5h.01M277.8 89.6h.01M277.0 101.7h.01M271.9 109.6h.01M279.6 94.0h.01M274.7 95.3h.01M272.9 116.0h.01M271.7 105.4h.01M275.0 100.3h.01M268.6 105.9h.01M268.7 107.0h.01M273.4 100.9h.01M272.4 90.6h.01M269.4 99.5h.01M273.4 102.4h.01M272.2 107.5h.01M274.4 100.7h.01M272.9 99.3h.01M277.2 92.2h.01M268.4 103.4h.01M275.7 99.7h.01M275.8 85.9h.01M269.7 99.4h.01M274.5 86.6h.01M277.1 79.7h.01M279.9 88.6h.01M272.1 88.6h.01M268.3 96.1h.01M265.9 95.9h.01M274.8 96.3h.01M274.7 84.5h.01M266.7 85.7h.01M278.3 102.7h.01M265.1 117.0h.01M275.9 110.6h.01M277.4 112.8h.01M266.5 100.2h.01M269.3 119.4h.01M276.9 99.3h.01M274.1 77.5h.01M274.8 90.7h.01M279.3 107.0h.01M273.8 95.3h.01M279.0 93.9h.01M278.5 101.5h.01M272.4 103.2h.01M282.4 82.8h.01M276.7 107.0h.01M271.8 114.5h.01M276.4 105.0h.01M269.2 105.3h.01M268.0 104.6h.01M283.8 90.1h.01M281.3 88.2h.01M273.7 106.8h.01M267.4 102.8h.01M270.9 93.0h.01M277.6 98.5h.01M275.6 99.6h.01M274.6 115.5h.01M274.6 96.4h.01M273.5 106.8h.01M277.2 77.2h.01M273.3 103.9h.01M285.6 93.2h.01M273.4 87.4h.01M274.7 81.1h.01M270.3 98.5h.01M267.5 96.6h.01M270.1 112.4h.01M279.5 121.2h.01M274.1 106.3h.01M284.6 92.7h.01M281.8 89.9h.01M279.4 83.1h.01M272.3 97.3h.01M274.0 79.2h.01M274.6 96.3h.01M280.0 105.4h.01M264.4 100.7h.01M278.6 98.3h.01M271.6 85.1h.01M272.8 89.6h.01M272.9 96.0h.01M280.0 89.1h.01M276.0 87.9h.01M274.4 110.0h.01M272.1 87.0h.01M274.0 99.6h.01M270.8 103.7h.01M273.8 106.4h.01M267.4 107.2h.01M279.9 90.8h.01M282.3 101.7h.01M268.9 88.2h.01M271.0 92.6h.01M272.6 102.4h.01M273.2 96.0h.01M270.9 78.0h.01M271.5 86.5h.01M279.2 74.1h.01M280.6 69.6h.01M273.0 99.5h.01M269.6 89.1h.01M278.3 88.0h.01M273.4 99.8h.01M277.5 86.1h.01M279.7 97.7h.01M279.2 84.6h.01M278.7 98.3h.01M277.7 92.6h.01M277.6 99.7h.01M264.0 125.4h.01M270.6 104.2h.01M273.3 94.6h.01M271.6 108.9h.01M277.4 109.0h.01M266.2 107.8h.01M265.8 123.4h.01M274.8 111.2h.01M273.7 100.8h.01M269.5 120.2h.01M271.7 110.7h.01M270.4 97.8h.01M272.2 98.2h.01M271.2 106.0h.01M277.7 82.5h.01M272.7 85.6h.01M279.3 86.2h.01M275.8 100.9h.01M274.8 78.9h.01M281.4 97.8h.01M276.2 110.4h.01M270.1 88.9h.01M280.2 119.6h.01M270.3 98.5h.01M278.1 97.8h.01M279.3 105.6h.01M273.1 106.4h.01M271.0 112.6h.01M270.1 113.1h.01M286.0 81.0h.01M282.3 83.8h.01M272.4 118.6h.01M278.2 106.4h.01M275.4 101.2h.01M276.0 97.3h.01M273.4 86.4h.01M281.5 99.1h.01M281.8 107.2h.01M276.6 87.8h.01M272.7 99.8h.01M273.5 96.2h.01M264.1 95.1h.01M273.1 94.3h.01M273.5 82.9h.01M269.2 114.9h.01M270.0 93.8h.01M270.3 97.6h.01M270.3 120.4h.01M268.4 113.6h.01M271.5 104.1h.01M285.0 99.2h.01M275.7 69.3h.01M272.5 97.0h.01M274.3 101.9h.01M269.6 89.5h.01M277.4 96.6h.01M273.6 106.4h.01M274.3 101.0h.01M269.1 99.4h.01M265.3 118.0h.01M269.4 117.1h.01M271.8 98.0h.01M279.5 101.7h.01M274.9 96.6h.01M273.2 91.7h.01M271.6 80.7h.01M273.7 91.2h.01M278.8 121.8h.01M283.1 87.0h.01M272.4 98.1h.01M266.2 115.9h.01M276.9 102.6h.01M282.1 104.7h.01M272.4 102.5h.01M271.6 104.6h.01M267.8 104.9h.01M272.9 95.0h.01M272.3 98.2h.01M265.9 105.8h.01M271.9 118.5h.01M273.3 109.5h.01M273.9 98.1h.01M268.9 94.7h.01M272.9 74.1h.01M273.1 92.0h.01M274.6 110.4h.01M271.9 112.1h.01M278.9 107.6h.01M272.4 100.7h.01M280.2 115.9h.01M280.1 81.4h.01M262.8 118.3h.01M276.3 113.8h.01M276.7 96.4h.01M276.0 99.1h.01M280.0 108.5h.01M270.3 91.6h.01M277.9 108.9h.01M275.0 103.3h.01M269.0 90.6h.01M277.4 80.3h.01M275.8 105.8h.01M276.3 108.6h.01M282.2 102.7h.01M271.5 81.6h.01M264.0 100.7h.01M279.0 82.0h.01M275.2 92.1h.01M272.7 102.0h.01M274.9 87.2h.01M277.4 98.3h.01M265.2 107.8h.01M281.2 95.6h.01M282.1 83.0h.01M272.0 113.4h.01M279.5 105.1h.01M279.0 95.3h.01M276.6 109.8h.01M277.9 103.7h.01M277.4 104.3h.01M277.7 83.3h.01M277.2 89.8h.01M272.3 100.3h.01M275.9 85.8h.01M271.5 102.2h.01M272.1 100.0h.01M274.9 101.9h.01M271.5 101.6h.01M277.3 86.3h.01M278.1 89.1h.01M275.2 106.1h.01M277.6 87.2h.01M270.7 87.2h.01M276.4 101.1h.01M265.5 107.4h.01M279.6 94.1h.01M273.5 102.2h.01M269.8 95.1h.01M276.6 96.0h.01M273.9 100.8h.01M281.4 102.4h.01M275.8 94.6h.01M279.4 100.3h.01M273.0 113.5h.01M280.5 89.8h.01M271.8 113.1h.01M270.9 116.2h.01M272.0 120.2h.01M270.9 79.1h.01M266.3 120.5h.01M271.0 95.0h.01M271.9 91.8h.01M274.6 101.0h.01M271.5 94.0h.01M279.3 109.7h.01M277.5 112.7h.01M272.5 108.9h.01M281.8 90.9h.01M281.5 73.6h.01M266.4 84.1h.01M270.1 89.3h.01M271.3 108.2h.01M270.9 95.6h.01M269.2 82.7h.01M273.6 91.6h.01M277.8 100.7h.01M265.5 107.2h.01M268.9 95.3h.01M269.8 90.8h.01M272.0 86.9h.01M270.8 96.5h.01M276.6 106.9h.01M282.8 82.4h.01M271.4 112.2h.01M269.0 97.7h.01M276.1 115.7h.01M276.2 102.9h.01M272.8 106.0h.01M274.1 103.0h.01M271.1 98.0h.01M270.7 87.9h.01M270.7 90.5h.01M271.3 93.3h.01M267.0 102.6h.01M274.3 115.7h.01M264.4 84.4h.01M270.1 90.2h.01M274.7 90.4h.01M270.0 107.0h.01M274.1 82.3h.01M276.6 122.9h.01M278.9 97.6h.01M279.9 98.6h.01M272.2 102.0h.01M279.5 100.5h.01M273.4 84.8h.01M275.4 88.0h.01M274.3 84.7h.01M270.6 89.1h.01M271.6 87.3h.01M278.8 107.5h.01M273.0 88.4h.01M278.8 96.7h.01M275.7 109.9h.01M271.8 103.9h.01M276.1 94.8h.01M273.5 92.8h.01M259.1 95.2h.01M280.5 110.0h.01M285.8 100.1h.01M278.1 92.8h.01M269.4 94.8h.01M277.6 114.7h.01M261.5 113.8h.01M280.7 114.9h.01M265.8 107.7h.01M276.7 89.2h.01M266.8 131.9h.01M269.9 99.4h.01M261.2 97.9h.01M283.7 110.0h.01M268.7 105.8h.01M277.0 112.4h.01M267.7 109.8h.01M269.9 99.3h.01M268.7 95.6h.01M277.8 84.1h.01M275.8 138.0h.01M268.4 101.9h.01M274.0 124.1h.01M264.8 112.1h.01M273.8 128.9h.01M273.1 129.3h.01M267.9 109.6h.01M267.0 98.1h.01M265.9 100.4h.01M285.0 98.8h.01M291.2 124.7h.01M276.5 105.4h.01M276.6 96.2h.01M278.5 106.4h.01M261.2 105.7h.01M278.4 105.9h.01M276.6 105.3h.01M271.1 117.9h.01M284.0 101.6h.01M279.9 92.2h.01M282.9 95.4h.01M274.7 116.6h.01M271.0 105.7h.01M281.3 98.6h.01M276.7 118.4h.01M276.2 95.9h.01M271.8 102.2h.01M274.5 112.8h.01M263.9 104.4h.01M275.8 123.3h.01M264.6 94.6h.01M280.4 104.7h.01M281.8 104.7h.01M270.0 104.5h.01M282.8 113.8h.01M275.7 106.9h.01M281.7 112.6h.01M276.1 113.9h.01M275.1 91.9h.01M280.5 119.5h.01M283.8 104.4h.01M266.3 110.1h.01M270.5 83.0h.01M275.4 96.1h.01M274.9 99.5h.01M279.9 115.4h.01M277.8 119.2h.01M270.8 133.3h.01M262.8 114.0h.01M281.3 100.5h.01M275.2 91.0h.01M271.5 108.7h.01M265.9 82.1h.01M272.0 95.3h.01M268.0 103.2h.01M265.2 118.1h.01M282.1 105.6h.01M270.5 104.5h.01M273.7 95.8h.01M270.1 110.2h.01M268.4 97.6h.01M271.4 93.4h.01M276.1 90.1h.01M280.6 113.6h.01M274.2 115.2h.01M281.7 100.6h.01M274.0 98.0h.01M272.0 100.6h.01M274.9 111.2h.01M289.0 109.1h.01M280.7 102.4h.01M285.4 106.6h.01M273.2 101.9h.01M274.6 100.5h.01M275.6 125.9h.01M274.8 96.2h.01M262.1 103.9h.01M267.7 96.1h.01M275.3 109.2h.01M277.5 118.6h.01M268.1 97.4h.01M268.5 93.3h.01M270.0 95.2h.01M278.9 92.5h.01M288.9 80.9h.01M279.8 86.7h.01M271.1 90.8h.01M274.3 110.6h.01M271.6 97.3h.01M267.7 95.1h.01M268.7 97.0h.01M274.7 115.3h.01M269.6 81.2h.01M271.8 114.5h.01M267.5 109.1h.01M266.6 90.0h.01M275.7 83.2h.01M271.5 73.1h.01M267.3 109.2h.01M270.9 96.5h.01M277.7 94.0h.01M266.6 99.9h.01M273.6 106.3h.01M272.9 118.5h.01M277.8 103.0h.01M289.3 86.4h.01M275.7 95.5h.01M288.3 108.0h.01M279.5 109.2h.01M283.8 98.2h.01M280.1 84.5h.01M277.8 117.9h.01M279.8 111.6h.01M261.7 105.6h.01M271.8 122.4h.01M277.6 112.2h.01M282.7 110.7h.01M265.1 95.2h.01M260.3 118.7h.01M272.8 89.6h.01M277.3 99.6h.01M272.0 119.8h.01M260.5 87.4h.01M273.4 101.6h.01M281.5 100.4h.01M277.5 124.7h.01M265.0 87.9h.01M269.3 102.1h.01M266.8 107.5h.01M268.9 117.8h.01M277.4 112.4h.01M275.5 106.9h.01M263.3 101.9h.01M262.3 120.0h.01M266.5 93.9h.01M271.0 130.2h.01M266.7 124.0h.01M274.9 134.7h.01M272.6 98.1h.01M273.8 98.0h.01M269.3 112.8h.01M271.0 114.9h.01M278.0 115.3h.01M284.4 116.9h.01M267.8 120.1h.01M257.7 119.3h.01M282.1 92.0h.01M282.5 82.5h.01M280.7 99.7h.01M272.1 102.5h.01M270.3 113.1h.01M273.7 104.0h.01M274.4 100.3h.01M267.3 111.5h.01M279.6 90.7h.01M280.4 119.3h.01M275.2 121.7h.01M259.7 120.6h.01M269.1 108.0h.01M268.0 133.2h.01M271.4 112.3h.01M264.4 101.1h.01M276.9 103.2h.01M269.1 122.0h.01M263.9 105.5h.01M272.9 100.3h.01M278.3 107.3h.01M272.9 112.2h.01M273.5 110.8h.01M282.5 107.4h.01M274.5 97.9h.01M283.4 115.9h.01M277.6 108.2h.01M268.6 105.6h.01M276.1 91.0h.01M267.8 103.3h.01M286.8 108.9h.01M264.5 119.5h.01M280.0 112.9h.01M270.5 103.3h.01M288.6 117.7h.01M304.4 83.3h.01M263.6 99.6h.01M268.1 96.8h.01M278.9 120.3h.01M264.7 111.4h.01M279.8 107.6h.01M283.1 118.3h.01M268.7 106.3h.01M275.9 90.6h.01M272.6 116.7h.01M276.7 105.1h.01M291.3 112.1h.01M280.5 94.5h.01M282.2 99.6h.01M273.0 99.8h.01M265.7 111.5h.01M266.0 114.5h.01M268.8 119.7h.01M276.4 118.5h.01M266.8 111.5h.01M279.1 108.1h.01M273.4 97.9h.01M252.6 110.7h.01M265.7 92.5h.01M276.6 73.5h.01M269.1 112.9h.01M274.3 102.3h.01M269.0 106.9h.01M263.9 98.2h.01M279.5 94.0h.01M273.3 100.4h.01M265.8 81.5h.01M268.4 95.7h.01M267.3 104.1h.01M276.3 112.2h.01M276.6 91.0h.01M283.4 109.0h.01M279.1 89.7h.01M281.4 131.9h.01M277.7 118.1h.01M270.3 106.8h.01M273.8 112.7h.01M275.3 108.0h.01M266.1 122.3h.01M262.1 130.5h.01M263.0 126.5h.01M266.0 123.6h.01M271.8 110.1h.01M270.1 126.0h.01M272.1 112.6h.01M268.9 124.9h.01M266.7 125.9h.01M270.9 117.2h.01M274.4 119.2h.01M264.8 125.7h.01M267.4 125.9h.01M270.5 118.3h.01M271.0 111.5h.01M274.2 119.8h.01M266.5 127.7h.01M271.8 110.8h.01M265.5 124.2h.01M261.7 130.2h.01M267.8 120.6h.01M263.7 134.3h.01M264.6 128.4h.01M263.3 118.9h.01M267.2 118.3h.01M270.1 113.5h.01M270.5 119.0h.01M264.4 124.8h.01M273.2 109.9h.01M265.5 126.3h.01M268.5 118.3h.01M265.5 127.4h.01M269.2 120.9h.01M265.2 121.4h.01M269.7 113.1h.01M270.3 119.6h.01M266.5 123.7h.01M266.2 127.8h.01M270.4 115.7h.01M267.1 118.6h.01M273.5 118.2h.01M264.6 128.0h.01M268.1 124.8h.01M270.7 112.6h.01M265.4 125.8h.01M269.4 119.5h.01M273.1 113.4h.01M274.9 112.8h.01M260.3 128.1h.01M268.9 115.0h.01M274.3 112.3h.01M267.5 125.0h.01M273.3 108.7h.01M263.6 128.4h.01M262.0 126.0h.01M265.9 123.2h.01M273.6 116.7h.01M270.9 117.7h.01M266.7 126.7h.01M265.1 132.0h.01M265.9 124.3h.01M270.8 113.1h.01M267.8 122.3h.01M265.9 124.8h.01M268.0 126.2h.01M271.8 113.2h.01M268.8 115.2h.01M269.2 115.5h.01M270.5 126.5h.01M269.6 122.5h.01M271.2 126.8h.01M270.1 117.3h.01M270.1 120.4h.01M268.2 115.0h.01M272.1 118.8h.01M274.0 117.7h.01M266.5 123.2h.01M269.8 119.8h.01M265.3 121.2h.01M270.8 118.0h.01M271.5 113.5h.01M266.1 127.5h.01M263.9 129.2h.01M268.1 121.2h.01M272.2 114.6h.01M267.2 120.8h.01M266.4 126.8h.01M263.4 130.0h.01M263.6 129.5h.01M270.7 121.3h.01M248.6 125.1h.01M262.8 126.2h.01M257.2 106.7h.01M246.8 109.8h.01M256.0 104.5h.01M253.2 100.1h.01M248.4 110.2h.01M248.9 113.7h.01M253.5 114.4h.01M257.8 125.6h.01M255.8 128.5h.01M262.5 116.4h.01M258.7 127.5h.01M248.6 124.1h.01M257.3 117.5h.01M251.0 96.8h.01M249.1 122.8h.01M250.5 109.6h.01M248.7 116.5h.01M238.7 115.7h.01M242.8 122.6h.01M252.2 104.2h.01M258.4 116.8h.01M260.9 122.5h.01M251.6 100.3h.01M261.0 125.9h.01M248.2 108.6h.01M241.3 108.0h.01M258.3 115.2h.01M253.3 115.4h.01M247.9 108.0h.01M260.2 123.4h.01M245.4 108.9h.01M257.7 116.3h.01M249.2 107.4h.01M244.4 113.3h.01M262.0 120.4h.01M258.7 122.3h.01M253.4 113.8h.01M260.0 119.5h.01M254.3 103.3h.01M252.7 123.5h.01M251.7 115.9h.01M241.6 113.6h.01M238.9 119.2h.01M260.0 103.9h.01M255.3 124.6h.01M259.0 115.8h.01M248.1 122.4h.01M256.5 115.5h.01M258.0 125.0h.01M259.3 106.8h.01M260.9 114.6h.01M258.0 126.9h.01M262.2 113.3h.01M254.2 120.5h.01M253.7 120.5h.01M260.7 119.6h.01M244.8 101.1h.01M245.1 103.4h.01M251.4 124.7h.01M247.6 128.4h.01M249.5 110.4h.01M237.3 106.6h.01M254.6 123.3h.01M249.8 122.0h.01M260.0 129.0h.01M262.1 117.6h.01M258.2 114.1h.01M261.3 126.4h.01M243.7 121.6h.01M261.7 112.9h.01M258.4 113.9h.01M257.8 116.1h.01M260.4 125.4h.01M246.2 113.6h.01M253.3 113.6h.01M258.2 121.2h.01M262.1 109.2h.01M261.1 121.9h.01M242.9 124.1h.01M242.7 122.4h.01M247.4 118.7h.01M262.6 125.0h.01M262.2 113.5h.01M254.2 118.5h.01M260.2 123.8h.01M258.0 126.7h.01M254.4 118.3h.01M262.3 121.8h.01M253.8 106.3h.01M258.1 114.0h.01M259.0 123.2h.01M240.3 116.0h.01M250.9 103.1h.01M260.2 117.0h.01M256.4 124.0h.01M251.9 117.1h.01M246.0 128.5h.01M260.4 123.6h.01M252.4 130.6h.01M253.2 122.4h.01M261.3 122.7h.01M244.0 116.4h.01M262.0 109.3h.01M232.2 113.9h.01M257.3 112.5h.01M248.6 119.8h.01M239.2 118.2h.01M240.9 116.6h.01M261.3 139.9h.01M260.5 115.4h.01M255.1 136.3h.01M257.4 104.2h.01M261.6 115.3h.01M253.7 114.2h.01M261.0 106.9h.01M248.4 117.5h.01M243.1 109.4h.01M244.5 126.4h.01M258.0 123.4h.01M261.4 119.0h.01M262.4 117.1h.01M241.3 113.9h.01M258.8 117.2h.01M261.3 130.5h.01M261.6 120.2h.01M248.9 121.4h.01M254.8 122.4h.01M244.4 112.2h.01M232.1 130.4h.01M262.3 130.1h.01M239.6 125.3h.01M255.9 115.4h.01M253.1 101.6h.01M246.0 128.9h.01M252.1 114.9h.01M258.2 104.4h.01M252.2 113.6h.01M254.5 130.4h.01M257.1 97.9h.01M248.8 121.1h.01M260.7 111.4h.01M237.8 119.0h.01M259.4 104.4h.01M256.6 124.3h.01M261.0 113.5h.01M259.8 104.4h.01M234.1 121.4h.01M246.1 104.6h.01M224.2 111.9h.01M228.3 115.7h.01M247.7 136.6h.01M254.2 130.8h.01M257.0 125.7h.01M247.0 98.5h.01M233.1 115.3h.01M220.4 132.8h.01M231.7 104.9h.01M219.4 117.4h.01M230.1 134.8h.01M242.6 112.8h.01M222.6 96.7h.01M244.9 120.6h.01M236.8 116.1h.01M233.2 133.0h.01M218.3 104.4h.01M249.3 108.0h.01M229.9 112.9h.01M228.4 126.8h.01M220.0 118.2h.01" stroke="#000" stroke-width="1.12" stroke-linecap="round" fill="none"/>
<path d="M274.6 81.0C282.6 81.0 281.8 85.2 280.8 98.0C280.3 108.2 276.3 119.0 272.3 120.0C268.8 117.0 266.8 108.2 266.8 98.0C266.8 85.2 266.1 81.0 274.6 81.0Z" fill="#000"/>
<rect x="262.60" y="54.75" width="43.15" height="40.75" fill="none" stroke="#1a1a1a" stroke-width="1.1"/>
<rect x="261.30" y="99.80" width="43.40" height="41.10" fill="none" stroke="#1a1a1a" stroke-width="1.1"/>
<rect x="215.20" y="98.60" width="41.50" height="36.40" fill="none" stroke="#1a1a1a" stroke-width="1.1"/>
<text x="280.1" y="49.05" font-size="8.22" text-anchor="start" font-style="italic" textLength="31.3" lengthAdjust="spacingAndGlyphs" stroke="#1a1a1a" stroke-width="0.25" fill="#1a1a1a">Gli1 WT</text>
<text x="282.6" y="63.75" font-size="9.98" text-anchor="start" textLength="20.6" lengthAdjust="spacingAndGlyphs" stroke="#111" stroke-width="0.3" fill="#111">MPP</text>
<text x="293.5" y="79.2" font-size="10.4" text-anchor="start" textLength="27.5" lengthAdjust="spacingAndGlyphs" stroke="#111" stroke-width="0.3" fill="#111">30.1%</text>
<text x="220.4" y="97.5" font-size="10.4" text-anchor="start" textLength="22.3" lengthAdjust="spacingAndGlyphs" stroke="#111" stroke-width="0.3" fill="#111">3.4%</text>
<text x="293.25" y="120.25" font-size="10.4" text-anchor="start" textLength="27.5" lengthAdjust="spacingAndGlyphs" stroke="#111" stroke-width="0.3" fill="#111">50.7%</text>
<text x="217.2" y="134" font-size="9.98" text-anchor="start" textLength="29.7" lengthAdjust="spacingAndGlyphs" stroke="#111" stroke-width="0.3" fill="#111">LT-HSC</text>
<text x="271.75" y="139.25" font-size="9.98" text-anchor="start" textLength="30.9" lengthAdjust="spacingAndGlyphs" stroke="#111" stroke-width="0.3" fill="#111">ST-HSC</text>
<rect x="210.40" y="156.60" width="109.35" height="108.00" fill="none" stroke="#999" stroke-width="0.9" rx="1.2"/>
<path d="M284.4 204.0h.01M274.9 211.6h.01M269.1 208.8h.01M270.7 213.1h.01M274.5 223.1h.01M273.5 223.8h.01M275.2 214.6h.01M272.4 204.9h.01M265.3 212.8h.01M271.9 216.4h.01M275.2 202.3h.01M270.0 203.5h.01M277.8 212.4h.01M273.9 205.4h.01M267.0 208.2h.01M272.1 217.5h.01M265.3 216.3h.01M269.0 208.7h.01M271.5 209.6h.01M274.6 221.2h.01M274.8 208.6h.01M274.7 216.7h.01M276.9 215.8h.01M265.4 206.6h.01M270.4 221.6h.01M271.7 221.5h.01M274.9 202.8h.01M272.8 218.3h.01M275.6 200.2h.01M275.2 208.2h.01M262.9 208.3h.01M264.0 202.1h.01M278.5 235.2h.01M277.7 217.2h.01M281.8 216.4h.01M269.4 191.6h.01M278.4 193.4h.01M259.4 207.6h.01M273.6 205.7h.01M277.9 212.6h.01M273.6 217.4h.01M269.9 215.3h.01M284.7 205.1h.01M273.4 218.1h.01M270.3 213.0h.01M264.8 209.5h.01M272.5 223.4h.01M277.8 208.3h.01M266.5 229.9h.01M278.3 196.4h.01M271.7 205.4h.01M270.9 198.1h.01M271.1 208.9h.01M271.2 222.9h.01M274.7 202.6h.01M264.7 208.8h.01M278.0 222.0h.01M269.4 224.0h.01M275.4 208.2h.01M275.1 212.9h.01M267.7 209.7h.01M273.0 225.5h.01M267.8 215.8h.01M273.1 213.2h.01M266.3 225.0h.01M278.5 228.1h.01M274.5 227.0h.01M275.1 222.7h.01M271.2 215.7h.01M272.0 204.2h.01M271.5 203.6h.01M267.7 210.2h.01M268.9 232.4h.01M281.2 223.5h.01M277.4 206.0h.01M275.2 200.7h.01M270.2 209.4h.01M270.8 221.6h.01M267.8 235.6h.01M270.1 221.5h.01M264.8 222.0h.01M266.9 215.6h.01M272.6 221.3h.01M275.8 217.3h.01M271.3 231.5h.01M270.8 213.9h.01M270.7 215.1h.01M268.5 210.1h.01M275.9 208.6h.01M275.7 208.5h.01M280.1 212.6h.01M281.5 218.3h.01M271.9 222.4h.01M278.0 227.7h.01M279.4 221.9h.01M266.8 222.3h.01M272.4 217.5h.01M279.7 207.3h.01M278.3 235.5h.01M276.0 211.0h.01M279.7 215.5h.01M277.6 225.2h.01M265.4 216.7h.01M265.9 207.4h.01M276.7 203.0h.01M269.7 209.7h.01M274.4 217.0h.01M275.5 209.2h.01M269.1 217.5h.01M269.2 206.4h.01M276.9 206.5h.01M267.9 224.0h.01M274.0 193.5h.01M268.2 231.4h.01M287.1 211.0h.01M276.1 220.4h.01M275.5 197.2h.01M277.8 216.2h.01M272.7 199.0h.01M269.9 212.6h.01M271.6 215.7h.01M270.5 222.7h.01M276.7 203.2h.01M269.8 217.5h.01M269.5 226.3h.01M270.2 215.9h.01M276.6 203.4h.01M279.2 211.7h.01M269.8 207.4h.01M265.4 201.3h.01M280.4 212.4h.01M271.5 215.4h.01M276.2 206.4h.01M271.8 216.1h.01M277.8 215.9h.01M281.2 211.7h.01M272.1 201.1h.01M272.4 219.4h.01M271.8 212.0h.01M268.5 208.3h.01M270.8 212.8h.01M277.9 218.2h.01M276.8 224.2h.01M269.9 225.7h.01M273.9 201.7h.01M270.0 212.8h.01M264.2 234.4h.01M272.2 221.3h.01M267.0 214.5h.01M274.6 206.7h.01M274.2 213.6h.01M275.4 202.7h.01M275.6 211.0h.01M269.9 193.7h.01M272.2 210.2h.01M285.2 202.7h.01M279.5 224.8h.01M274.8 215.8h.01M276.2 200.2h.01M280.0 210.6h.01M269.3 213.5h.01M260.1 201.6h.01M268.0 199.4h.01M274.9 227.9h.01M273.1 210.6h.01M274.7 208.9h.01M273.3 217.1h.01M272.0 209.7h.01M273.2 214.0h.01M277.0 199.9h.01M267.6 209.1h.01M275.9 201.8h.01M278.0 226.3h.01M268.6 223.5h.01M262.7 212.5h.01M264.4 223.0h.01M276.7 217.9h.01M270.6 203.1h.01M275.1 208.7h.01M277.0 198.9h.01M274.6 217.9h.01M262.3 201.7h.01M269.6 207.8h.01M264.3 213.3h.01M267.2 212.4h.01M264.4 202.5h.01M277.0 197.7h.01M271.7 226.1h.01M277.4 201.2h.01M283.9 208.0h.01M276.7 221.7h.01M270.8 218.8h.01M259.1 213.9h.01M273.6 209.9h.01M272.7 222.6h.01M277.6 207.4h.01M275.9 223.6h.01M273.0 216.5h.01M261.5 198.8h.01M275.3 199.5h.01M276.2 223.5h.01M268.4 202.5h.01M271.5 215.0h.01M276.8 210.9h.01M273.3 204.0h.01M274.4 206.0h.01M277.2 219.2h.01M264.4 216.0h.01M266.7 221.6h.01M266.9 224.3h.01M276.8 230.5h.01M274.2 213.3h.01M279.2 201.9h.01M272.6 210.0h.01M273.2 198.6h.01M265.3 197.5h.01M280.0 209.8h.01M275.7 211.7h.01M270.7 224.6h.01M261.3 210.8h.01M269.2 204.5h.01M265.5 199.0h.01M266.1 222.6h.01M269.4 208.6h.01M271.4 218.4h.01M277.5 214.6h.01M272.3 217.5h.01M268.6 214.8h.01M281.2 207.0h.01M269.2 199.0h.01M272.5 218.4h.01M270.7 209.9h.01M278.3 213.1h.01M276.2 209.6h.01M278.4 221.0h.01M272.2 207.5h.01M285.6 203.3h.01M269.2 190.6h.01M275.9 213.5h.01M273.0 199.2h.01M273.1 205.9h.01M267.0 210.8h.01M274.2 211.6h.01M269.8 219.5h.01M274.0 209.7h.01M275.3 215.7h.01M276.7 220.4h.01M276.6 207.7h.01M278.5 222.0h.01M269.4 224.2h.01M273.7 204.1h.01M273.2 201.6h.01M278.8 201.8h.01M280.3 205.3h.01M271.3 224.4h.01M275.3 198.4h.01M273.0 196.8h.01M276.5 204.0h.01M272.3 211.9h.01M265.2 216.0h.01M281.8 205.0h.01M269.7 216.4h.01M279.1 205.3h.01M273.5 216.3h.01M278.3 205.8h.01M283.6 231.3h.01M266.6 206.1h.01M274.8 207.5h.01M270.2 213.2h.01M269.5 207.8h.01M274.0 209.7h.01M274.0 222.6h.01M278.1 214.1h.01M282.9 209.8h.01M276.2 229.4h.01M273.3 220.6h.01M270.8 208.3h.01M273.5 217.6h.01M274.2 219.3h.01M274.4 212.6h.01M270.0 212.4h.01M273.1 213.3h.01M267.0 224.6h.01M278.0 215.5h.01M270.0 223.2h.01M271.9 211.3h.01M276.0 208.7h.01M273.8 209.2h.01M275.6 217.3h.01M276.1 217.4h.01M274.3 216.9h.01M277.3 205.1h.01M267.3 214.2h.01M273.9 211.4h.01M279.9 217.7h.01M278.9 214.5h.01M267.1 201.6h.01M278.1 214.0h.01M270.0 224.9h.01M281.0 217.1h.01M279.3 211.0h.01M269.4 199.2h.01M279.0 200.2h.01M271.0 214.3h.01M276.7 197.3h.01M272.3 206.5h.01M280.0 212.0h.01M269.0 228.6h.01M273.3 220.6h.01M274.6 212.3h.01M276.9 207.4h.01M266.7 208.0h.01M276.2 210.4h.01M277.7 219.9h.01M273.4 223.3h.01M274.6 216.5h.01M271.8 212.8h.01M272.1 222.9h.01M279.9 223.2h.01M274.2 212.7h.01M274.5 208.8h.01M273.1 210.8h.01M274.1 193.1h.01M272.6 219.4h.01M267.0 229.0h.01M274.0 208.8h.01M280.2 205.5h.01M286.2 207.6h.01M276.7 226.2h.01M276.2 214.9h.01M269.8 212.5h.01M273.6 222.3h.01M262.2 219.1h.01M268.0 208.4h.01M272.9 208.3h.01M276.7 199.6h.01M275.8 204.9h.01M271.3 213.1h.01M266.1 217.3h.01M283.4 208.1h.01M268.0 226.8h.01M281.9 196.0h.01M271.7 206.7h.01M273.8 212.8h.01M268.4 209.9h.01M278.7 205.6h.01M273.7 219.2h.01M280.9 217.4h.01M274.6 205.5h.01M273.5 225.3h.01M274.5 224.4h.01M270.4 220.6h.01M272.2 207.7h.01M269.4 224.1h.01M275.9 212.2h.01M271.4 220.7h.01M270.3 223.6h.01M274.8 208.9h.01M272.7 204.6h.01M268.2 209.4h.01M270.9 210.6h.01M269.8 207.9h.01M275.3 202.2h.01M260.2 228.5h.01M273.4 215.4h.01M277.9 223.6h.01M279.4 222.0h.01M276.4 218.0h.01M272.5 212.7h.01M255.2 228.1h.01M273.0 205.1h.01M278.9 207.6h.01M275.3 206.3h.01M267.0 223.5h.01M274.5 200.2h.01M275.7 221.6h.01M271.3 219.9h.01M278.6 224.0h.01M275.6 220.5h.01M280.6 215.7h.01M271.9 211.4h.01M288.9 205.0h.01M274.1 197.7h.01M273.0 212.2h.01M272.2 220.5h.01M280.0 215.7h.01M269.5 209.4h.01M273.5 207.4h.01M272.4 218.4h.01M273.0 231.5h.01M265.1 214.9h.01M278.6 204.2h.01M263.8 232.0h.01M277.3 218.5h.01M279.2 205.0h.01M266.8 227.4h.01M274.4 199.6h.01M271.6 227.5h.01M268.8 199.7h.01M262.0 212.3h.01M272.9 207.9h.01M270.5 211.2h.01M270.2 208.6h.01M277.6 213.9h.01M276.4 197.4h.01M268.1 222.6h.01M273.1 222.7h.01M265.7 219.3h.01M270.3 213.7h.01M270.2 205.3h.01M268.0 212.5h.01M278.5 204.3h.01M270.6 205.0h.01M268.6 219.5h.01M271.4 205.3h.01M276.1 216.7h.01M274.6 214.9h.01M269.7 220.8h.01M269.9 215.6h.01M273.1 223.7h.01M271.8 220.8h.01M264.8 214.8h.01M273.9 214.6h.01M262.9 220.1h.01M270.4 207.7h.01M280.6 211.7h.01M278.4 198.6h.01M276.2 215.4h.01M274.9 205.3h.01M274.8 212.0h.01M279.7 209.2h.01M264.8 222.9h.01M268.0 211.8h.01M275.7 228.4h.01M275.3 220.0h.01M273.8 214.8h.01M272.6 216.6h.01M268.6 215.6h.01M278.5 215.1h.01M272.0 220.4h.01M269.0 211.9h.01M283.4 221.0h.01M276.8 212.8h.01M270.2 203.9h.01M272.5 225.2h.01M272.3 221.2h.01M271.7 214.8h.01M273.4 239.6h.01M274.2 206.0h.01M277.5 213.8h.01M276.1 207.6h.01M277.7 207.9h.01M275.2 210.5h.01M269.3 219.1h.01M276.1 196.3h.01M276.0 221.0h.01M273.8 216.9h.01M274.3 216.6h.01M270.9 223.1h.01M279.5 206.6h.01M273.9 206.0h.01M270.4 222.3h.01M273.1 215.8h.01M270.1 234.4h.01M278.4 217.4h.01M273.2 229.2h.01M278.7 216.6h.01M272.9 204.1h.01M278.6 228.8h.01M284.1 216.5h.01M278.4 197.0h.01M276.7 207.5h.01M269.7 206.8h.01M269.3 209.5h.01M276.1 207.9h.01M271.5 212.7h.01M282.2 220.7h.01M269.8 220.8h.01M281.0 212.7h.01M276.0 223.3h.01M266.4 215.3h.01M272.2 221.2h.01M279.6 209.9h.01M266.3 209.7h.01M273.5 208.3h.01M274.9 203.9h.01M275.3 220.4h.01M282.6 213.0h.01M278.2 207.9h.01M270.3 207.2h.01M273.2 202.9h.01M263.5 233.3h.01M271.7 214.0h.01M274.2 210.3h.01M271.6 223.7h.01M273.8 223.5h.01M267.3 218.1h.01M269.5 202.8h.01M276.4 216.1h.01M276.1 219.4h.01M263.6 218.7h.01M282.0 215.5h.01M276.9 226.3h.01M282.7 192.6h.01M271.8 212.6h.01M271.4 223.4h.01M268.5 192.9h.01M274.5 211.7h.01M277.5 223.5h.01M274.2 225.5h.01M267.0 213.3h.01M265.9 230.1h.01M271.4 222.2h.01M274.9 220.3h.01M277.3 223.5h.01M276.7 214.9h.01M277.5 197.6h.01M268.1 226.4h.01M276.5 201.9h.01M267.8 203.6h.01M270.8 221.3h.01M272.6 220.5h.01M267.1 213.1h.01M273.7 217.5h.01M276.4 215.0h.01M276.3 224.4h.01M276.0 203.7h.01M270.4 206.6h.01M280.0 220.7h.01M273.7 208.9h.01M269.6 226.7h.01M272.6 208.8h.01M269.1 219.8h.01M264.7 209.3h.01M275.6 221.0h.01M276.0 211.4h.01M276.1 228.2h.01M269.6 206.8h.01M271.4 214.8h.01M271.0 208.5h.01M262.2 221.5h.01M268.2 214.2h.01M270.4 219.9h.01M268.0 204.4h.01M273.5 214.6h.01M270.6 217.3h.01M271.0 210.9h.01M267.6 213.7h.01M277.5 212.7h.01M272.3 222.1h.01M271.5 208.4h.01M272.7 228.2h.01M271.3 213.4h.01M274.8 210.1h.01M270.7 224.8h.01M264.9 218.1h.01M276.8 224.5h.01M273.9 218.0h.01M271.3 199.2h.01M274.0 215.5h.01M274.4 225.2h.01M284.7 218.4h.01M281.1 215.7h.01M275.3 205.7h.01M274.7 208.9h.01M274.8 202.4h.01M279.1 201.1h.01M276.4 196.5h.01M273.0 216.3h.01M276.2 227.1h.01M267.5 212.8h.01M272.0 214.3h.01M279.1 208.8h.01M268.5 208.6h.01M277.7 207.3h.01M264.9 210.1h.01M277.8 227.5h.01M270.4 208.3h.01M276.1 222.7h.01M273.0 214.5h.01M277.6 200.7h.01M280.4 205.0h.01M263.5 225.1h.01M273.0 220.9h.01M265.7 216.7h.01M274.4 215.8h.01M273.9 213.4h.01M273.5 203.9h.01M282.8 209.6h.01M267.0 216.5h.01M272.3 207.4h.01M287.9 217.4h.01M264.9 209.6h.01M271.3 213.1h.01M275.8 218.0h.01M282.2 210.4h.01M271.2 223.4h.01M279.0 211.9h.01M270.1 224.1h.01M275.6 224.2h.01M278.2 218.8h.01M274.1 215.6h.01M274.0 203.3h.01M275.3 221.7h.01M277.0 208.5h.01M271.7 224.2h.01M279.0 206.4h.01M266.2 216.1h.01M265.2 230.8h.01M272.3 220.3h.01M264.3 215.3h.01M274.9 200.9h.01M281.9 214.2h.01M275.4 211.5h.01M273.9 220.0h.01M274.8 217.7h.01M265.6 213.8h.01M267.0 216.5h.01M270.5 198.5h.01M280.8 211.6h.01M271.5 214.1h.01M271.9 219.7h.01M281.0 210.3h.01M275.9 219.9h.01M266.7 220.0h.01M277.6 212.7h.01M272.1 205.2h.01M278.3 208.0h.01M274.5 202.2h.01M272.5 199.2h.01M268.7 220.2h.01M268.1 204.2h.01M269.6 209.3h.01M267.3 214.8h.01M269.6 219.4h.01M274.7 215.3h.01M274.1 217.2h.01M263.1 231.0h.01M263.7 225.6h.01M270.0 194.7h.01M267.1 195.6h.01M274.0 210.6h.01M285.6 214.4h.01M268.6 225.0h.01M287.4 206.4h.01M268.9 212.7h.01M267.2 206.5h.01M279.9 223.0h.01M278.0 214.2h.01M279.8 198.4h.01M280.3 200.3h.01M268.0 216.6h.01M267.2 215.5h.01M273.6 222.5h.01M272.2 214.2h.01M271.6 212.6h.01M271.6 212.9h.01M274.7 223.1h.01M275.7 187.2h.01M275.0 197.5h.01M267.4 218.3h.01M261.2 207.1h.01M273.7 212.8h.01M271.1 200.7h.01M282.7 200.8h.01M268.8 219.7h.01M273.1 219.9h.01M279.6 203.7h.01M275.6 207.0h.01M273.3 212.4h.01M268.9 214.1h.01M267.0 239.7h.01M285.3 214.4h.01M267.0 189.2h.01M263.8 224.8h.01M267.3 210.2h.01M270.8 209.0h.01M270.9 210.6h.01M280.6 216.9h.01M283.8 217.4h.01M273.5 233.6h.01M269.6 227.3h.01M268.4 225.8h.01M274.3 219.9h.01M270.1 239.4h.01M277.4 208.8h.01M284.5 208.5h.01M276.8 223.7h.01M273.7 222.0h.01M271.6 220.0h.01M270.4 210.7h.01M271.6 218.3h.01M271.3 229.4h.01M268.8 237.1h.01M273.9 215.4h.01M272.5 224.8h.01M270.8 222.5h.01M273.8 200.7h.01M272.6 232.5h.01M268.5 223.0h.01M267.2 225.6h.01M268.4 209.0h.01M273.9 217.2h.01M271.4 231.5h.01M277.8 209.9h.01M275.9 216.6h.01M275.6 212.1h.01M271.4 215.8h.01M268.6 214.2h.01M287.2 211.4h.01M263.9 213.7h.01M271.2 205.1h.01M273.4 211.6h.01M276.8 228.6h.01M265.8 212.5h.01M266.3 203.4h.01M272.8 219.6h.01M269.7 231.6h.01M264.8 213.6h.01M274.3 205.8h.01M273.4 198.2h.01M267.2 213.3h.01M267.7 215.8h.01M274.0 225.4h.01M275.8 208.6h.01M268.8 218.3h.01M268.7 233.7h.01M273.1 210.2h.01M268.7 213.1h.01M271.4 217.3h.01M269.7 208.9h.01M272.3 209.9h.01M267.9 212.9h.01M272.2 211.5h.01M275.2 203.3h.01M272.8 219.4h.01M273.5 212.7h.01M269.8 210.0h.01M264.9 233.5h.01M274.9 218.4h.01M277.8 214.6h.01M274.4 215.2h.01M269.5 194.2h.01M275.8 224.6h.01M276.2 212.7h.01M275.9 222.8h.01M279.0 217.8h.01M279.2 198.0h.01M277.4 221.5h.01M267.8 213.8h.01M275.2 225.2h.01M276.7 225.1h.01M273.3 214.2h.01M276.3 207.6h.01M267.9 219.9h.01M272.2 214.2h.01M280.2 191.4h.01M271.4 221.0h.01M271.1 227.0h.01M267.1 212.0h.01M270.5 209.5h.01M267.2 212.6h.01M268.8 204.8h.01M275.8 213.4h.01M266.6 213.2h.01M275.2 221.3h.01M272.6 225.3h.01M272.4 207.2h.01M269.8 215.4h.01M259.6 228.8h.01M277.0 208.5h.01M271.2 218.8h.01M282.2 200.2h.01M278.1 216.8h.01M270.0 217.9h.01M269.3 199.5h.01M262.7 232.7h.01M270.6 209.8h.01M272.4 209.6h.01M267.3 220.2h.01M273.8 217.9h.01M265.4 226.2h.01M274.2 223.7h.01M270.9 210.3h.01M265.4 226.8h.01M275.4 202.9h.01M272.8 213.3h.01M273.0 222.4h.01M278.0 217.5h.01M268.2 205.3h.01M269.0 207.2h.01M275.4 208.3h.01M271.7 220.3h.01M269.3 231.4h.01M262.4 219.3h.01M268.3 214.8h.01M272.3 212.4h.01M268.6 215.1h.01M268.1 215.0h.01M270.1 202.8h.01M279.1 214.1h.01M268.8 218.4h.01M275.7 229.1h.01M274.4 220.3h.01M267.0 231.6h.01M270.3 214.7h.01M273.7 221.5h.01M273.4 213.3h.01M272.7 228.4h.01M278.4 220.1h.01M276.5 205.5h.01M271.7 203.1h.01M283.6 198.0h.01M267.0 206.1h.01M271.5 197.8h.01M266.8 221.2h.01M264.3 223.1h.01M275.4 206.7h.01M259.7 207.0h.01M273.2 207.6h.01M271.1 214.5h.01M271.1 230.1h.01M275.4 225.2h.01M275.2 191.7h.01M271.6 215.4h.01M266.5 220.2h.01M274.9 196.3h.01M277.7 217.8h.01M273.1 206.9h.01M279.8 190.3h.01M269.3 224.8h.01M279.9 217.9h.01M281.5 209.4h.01M266.9 232.3h.01M279.4 214.2h.01M277.6 217.4h.01M272.5 218.6h.01M280.3 202.5h.01M270.3 212.8h.01M269.7 213.6h.01M266.4 210.0h.01M276.7 211.7h.01M272.5 219.7h.01M281.8 208.4h.01M269.6 221.7h.01M276.6 203.3h.01M269.1 209.2h.01M273.0 213.8h.01M276.5 229.3h.01M279.0 208.6h.01M270.8 205.9h.01M268.5 223.2h.01M276.4 194.7h.01M272.4 223.9h.01M265.2 219.5h.01M283.3 196.6h.01M270.6 203.3h.01M274.3 216.1h.01M279.8 215.7h.01M272.0 212.8h.01M279.3 204.8h.01M272.1 207.7h.01M270.4 224.8h.01M269.5 223.7h.01M270.0 204.0h.01M264.5 239.7h.01M272.3 225.5h.01M272.1 215.6h.01M268.2 224.5h.01M276.9 207.4h.01M276.3 224.7h.01M278.6 217.3h.01M278.2 223.3h.01M274.6 198.4h.01M267.6 227.3h.01M269.6 213.4h.01M272.6 207.9h.01M282.1 208.9h.01M280.6 214.9h.01M271.6 214.9h.01M266.5 216.1h.01M275.9 214.8h.01M274.0 207.1h.01M276.8 207.2h.01M271.0 206.7h.01M280.3 215.5h.01M270.9 225.1h.01M271.9 203.1h.01M273.9 219.0h.01M279.1 197.0h.01M269.0 224.7h.01M275.9 212.8h.01M264.6 213.4h.01M270.1 204.4h.01M274.8 205.6h.01M273.4 221.7h.01M270.5 222.9h.01M279.3 225.8h.01M269.1 202.9h.01M269.3 201.1h.01M269.4 216.3h.01M273.3 218.3h.01M280.5 211.2h.01M269.3 204.8h.01M267.5 218.5h.01M280.2 217.5h.01M271.2 215.7h.01M278.9 210.2h.01M276.7 214.7h.01M270.1 223.5h.01M278.1 214.0h.01M270.0 202.8h.01M268.2 226.2h.01M273.9 216.1h.01M276.1 214.7h.01M275.4 207.0h.01M280.2 205.9h.01M278.6 191.5h.01M269.5 203.1h.01M276.6 201.7h.01M266.1 220.0h.01M280.1 221.9h.01M283.5 222.4h.01M268.9 195.0h.01M270.4 207.0h.01M267.8 213.9h.01M280.3 223.5h.01M274.5 219.5h.01M268.8 226.2h.01M269.3 218.1h.01M269.7 210.0h.01M275.9 228.6h.01M265.7 218.0h.01M286.6 218.6h.01M275.1 224.3h.01M274.7 221.1h.01M274.9 203.3h.01M275.6 213.5h.01M281.5 200.1h.01M267.1 232.0h.01M271.1 227.9h.01M269.7 223.6h.01M267.3 201.3h.01M272.0 217.3h.01M270.8 228.5h.01M269.8 222.4h.01M270.7 206.4h.01M277.2 207.9h.01M263.1 215.9h.01M277.5 216.9h.01M270.4 202.4h.01M268.0 217.5h.01M282.6 203.5h.01M272.2 223.6h.01M275.5 214.2h.01M270.0 221.0h.01M272.6 209.3h.01M263.8 219.1h.01M275.4 218.3h.01M268.7 223.4h.01M276.4 211.8h.01M266.5 217.4h.01M279.0 195.8h.01M275.7 210.8h.01M272.2 216.4h.01M277.9 215.9h.01M266.6 218.8h.01M275.5 212.4h.01M280.8 211.0h.01M277.5 224.3h.01M274.4 216.4h.01M271.9 209.9h.01M271.0 205.9h.01M271.4 207.2h.01M271.6 211.4h.01M279.5 201.7h.01M267.9 223.9h.01M278.4 221.0h.01M272.7 236.9h.01M273.9 215.5h.01M279.4 205.3h.01M271.8 211.4h.01M265.4 219.3h.01M280.6 220.9h.01M271.2 211.5h.01M268.2 212.8h.01M275.7 202.9h.01M278.2 200.9h.01M269.9 214.0h.01M277.4 213.6h.01M267.5 201.5h.01M273.6 216.7h.01M275.9 199.8h.01M274.9 220.5h.01M269.0 206.1h.01M277.0 205.7h.01M275.4 228.2h.01M269.6 217.6h.01M275.2 219.3h.01M274.9 217.7h.01M270.8 213.5h.01M275.7 226.6h.01M275.8 227.7h.01M277.2 215.0h.01M276.2 223.0h.01M264.9 215.3h.01M263.9 221.0h.01M279.0 218.4h.01M277.1 217.0h.01M276.4 210.4h.01M285.5 223.5h.01M279.7 215.0h.01M276.5 223.9h.01M274.5 209.9h.01M280.0 207.4h.01M275.2 218.0h.01M265.9 224.0h.01M275.5 209.7h.01M278.3 204.9h.01M278.9 216.4h.01M271.2 225.5h.01M273.8 209.6h.01M274.6 215.5h.01M265.6 210.6h.01M271.3 228.3h.01M277.5 206.4h.01M273.7 214.8h.01M279.0 223.3h.01M273.5 213.0h.01M266.9 198.9h.01M268.2 235.8h.01M274.2 208.3h.01M275.8 229.9h.01M272.7 216.2h.01M280.4 215.4h.01M272.2 208.9h.01M277.2 209.4h.01M272.8 220.7h.01M269.1 201.5h.01M274.5 211.3h.01M270.6 208.1h.01M278.9 220.7h.01M273.9 217.3h.01M274.8 213.5h.01M268.2 214.9h.01M278.2 237.4h.01M274.7 215.3h.01M269.7 224.8h.01M266.3 208.7h.01M268.5 209.4h.01M275.5 213.5h.01M268.8 215.6h.01M278.9 212.6h.01M264.5 214.0h.01M280.5 213.0h.01M275.8 215.2h.01M274.1 216.1h.01M284.6 218.9h.01M265.8 222.1h.01M272.5 220.2h.01M275.2 213.6h.01M274.4 211.6h.01M267.8 215.3h.01M267.3 209.1h.01M279.3 226.9h.01M273.8 220.6h.01M276.3 216.0h.01M268.7 208.8h.01M282.1 209.2h.01M270.2 220.1h.01M269.2 213.8h.01M268.0 224.1h.01M273.7 235.5h.01M279.1 205.0h.01M271.8 184.4h.01M268.0 215.2h.01M268.9 201.4h.01M269.8 216.3h.01M280.9 213.7h.01M272.4 210.6h.01M267.0 220.8h.01M276.4 208.5h.01M279.4 221.5h.01M277.6 205.2h.01M272.6 206.2h.01M271.9 218.1h.01M279.5 223.6h.01M276.4 203.3h.01M267.7 210.9h.01M274.0 210.4h.01M273.4 219.0h.01M278.9 212.8h.01M272.5 206.6h.01M277.2 199.5h.01M258.7 232.8h.01M281.5 212.6h.01M265.6 232.3h.01M279.5 211.6h.01M268.2 223.7h.01M271.9 218.1h.01M271.0 222.4h.01M267.0 215.2h.01M279.8 208.2h.01M267.6 217.1h.01M275.7 201.7h.01M268.7 218.3h.01M273.5 200.9h.01M271.3 218.2h.01M273.6 215.9h.01M272.3 197.1h.01M272.1 213.1h.01M270.7 219.1h.01M278.2 221.1h.01M279.7 200.4h.01M274.9 207.6h.01M273.2 206.6h.01M267.6 226.6h.01M279.8 215.5h.01M270.3 223.3h.01M273.2 220.0h.01M278.6 211.8h.01M274.1 226.6h.01M277.8 206.9h.01M265.8 205.5h.01M277.6 207.3h.01M270.7 211.9h.01M279.0 233.2h.01M272.8 225.2h.01M273.4 218.2h.01M272.1 223.4h.01M272.3 234.2h.01M269.0 233.0h.01M268.3 197.6h.01M272.2 214.4h.01M274.1 217.0h.01M274.1 216.1h.01M272.8 224.5h.01M271.8 208.9h.01M265.9 221.8h.01M278.6 222.6h.01M273.8 214.8h.01M274.8 203.0h.01M270.1 209.5h.01M276.2 223.5h.01M266.5 239.1h.01M277.2 195.7h.01M274.7 221.8h.01M271.1 217.1h.01M266.4 215.5h.01M271.9 219.4h.01M276.6 215.1h.01M258.3 216.0h.01M272.7 207.4h.01M272.5 220.0h.01M273.6 213.3h.01M280.8 205.8h.01M270.6 225.0h.01M278.4 223.1h.01M282.5 228.5h.01M266.8 220.6h.01M283.7 209.7h.01M276.8 202.8h.01M268.4 221.9h.01M273.7 206.2h.01M279.7 209.5h.01M275.8 211.7h.01M267.3 214.3h.01M270.7 225.0h.01M268.5 214.1h.01M272.1 224.8h.01M270.0 218.3h.01M278.1 217.0h.01M272.2 209.7h.01M275.4 211.1h.01M274.2 215.7h.01M274.6 208.6h.01M279.8 219.2h.01M272.9 222.4h.01M269.7 210.7h.01M277.3 207.7h.01M268.9 204.2h.01M265.7 209.5h.01M271.9 219.2h.01M264.0 218.8h.01M267.6 215.5h.01M281.2 203.4h.01M280.8 209.6h.01M271.4 205.7h.01M273.0 231.8h.01M267.1 193.9h.01M272.6 234.3h.01M274.4 228.3h.01M264.2 220.6h.01M270.3 209.1h.01M274.6 208.5h.01M273.2 201.4h.01M273.9 196.0h.01M278.7 228.0h.01M274.3 197.9h.01M279.7 211.4h.01M274.8 203.7h.01M278.8 210.4h.01M272.3 213.6h.01M270.9 216.4h.01M279.1 214.5h.01M275.1 215.8h.01M276.5 212.7h.01M268.3 226.5h.01M282.4 218.0h.01M271.2 214.5h.01M276.4 218.5h.01M270.6 204.8h.01M272.3 217.2h.01M272.9 207.3h.01M268.1 216.7h.01M263.2 204.8h.01M277.3 196.1h.01M271.4 226.7h.01M270.2 200.5h.01M262.9 224.2h.01M263.0 216.2h.01M265.3 216.4h.01M273.4 220.4h.01M266.6 210.9h.01M263.7 213.4h.01M276.9 206.6h.01M277.1 217.9h.01M277.2 228.2h.01M271.5 227.4h.01M272.9 204.1h.01M277.0 208.1h.01M261.4 218.6h.01M275.0 226.9h.01M276.6 215.3h.01M261.9 215.4h.01M279.8 202.5h.01M276.8 223.0h.01M272.5 217.9h.01M273.5 197.4h.01M266.9 218.5h.01M270.2 220.7h.01M279.8 221.2h.01M272.9 206.6h.01M267.6 239.9h.01M273.7 224.5h.01M282.6 223.0h.01M274.1 202.9h.01M270.9 217.7h.01M276.1 225.2h.01M268.5 216.0h.01M269.9 212.5h.01M277.0 203.1h.01M275.9 220.2h.01M277.0 221.1h.01M269.9 215.9h.01M280.8 212.5h.01M267.8 222.8h.01M272.0 211.0h.01M266.7 212.8h.01M271.2 222.4h.01M269.7 203.5h.01M275.9 210.5h.01M265.8 227.9h.01M274.8 215.9h.01M276.6 216.8h.01M275.3 221.3h.01M269.4 214.4h.01M266.9 207.3h.01M271.7 218.5h.01M278.4 213.0h.01M275.1 216.1h.01M272.9 204.5h.01M281.0 208.3h.01M279.9 221.4h.01M291.4 206.7h.01M277.8 203.8h.01M281.3 206.4h.01M269.4 217.6h.01M275.2 214.3h.01M271.3 216.2h.01M276.3 221.3h.01M271.2 237.3h.01M275.0 224.6h.01M268.2 212.8h.01M277.4 192.5h.01M274.2 211.2h.01M269.6 221.4h.01M280.0 206.8h.01M267.1 224.3h.01M275.2 213.4h.01M275.4 213.3h.01M274.7 214.2h.01M276.2 208.1h.01M278.3 204.9h.01M284.8 221.4h.01M278.3 232.5h.01M278.3 206.8h.01M274.9 215.8h.01M273.1 220.0h.01M273.5 207.8h.01M271.1 215.5h.01M276.0 207.2h.01M280.8 216.3h.01M271.5 204.2h.01M273.8 206.0h.01M277.2 198.8h.01M264.9 216.7h.01M270.7 224.8h.01M272.1 211.9h.01M266.5 204.4h.01M293.9 209.7h.01M267.1 220.3h.01M283.2 229.0h.01M279.6 217.8h.01M264.3 219.0h.01M283.9 205.0h.01M283.9 210.7h.01M275.4 214.5h.01M265.8 215.6h.01M279.5 200.7h.01M273.8 203.8h.01M273.8 220.1h.01M273.7 206.1h.01M279.4 219.9h.01M267.0 207.4h.01M269.5 215.0h.01M279.0 212.1h.01M267.0 208.3h.01M276.2 214.4h.01M265.6 232.3h.01M284.2 219.8h.01M269.4 208.2h.01M273.6 195.6h.01M273.4 212.5h.01M276.5 207.5h.01M276.8 205.1h.01M274.5 211.4h.01M263.9 213.9h.01M268.5 229.5h.01M276.4 223.1h.01M281.0 216.0h.01M271.5 227.6h.01M277.3 219.0h.01M270.6 212.1h.01M270.1 227.0h.01M267.2 209.9h.01M280.7 218.2h.01M266.3 215.5h.01M283.5 217.3h.01M278.8 216.8h.01M269.6 217.6h.01M275.9 218.0h.01M274.5 209.0h.01M263.9 224.0h.01M269.6 230.8h.01M276.1 219.4h.01M271.8 216.2h.01M276.1 223.9h.01M272.9 214.3h.01M272.7 221.0h.01M267.4 219.9h.01M264.0 220.7h.01M278.0 202.2h.01M262.2 219.5h.01M271.3 223.1h.01M277.2 219.1h.01M287.0 213.3h.01M270.7 223.4h.01M272.8 224.2h.01M274.3 206.8h.01M288.9 212.7h.01M273.4 209.0h.01M284.3 223.9h.01M280.0 211.6h.01M272.4 220.8h.01M275.2 209.7h.01M270.2 213.9h.01M275.9 231.3h.01M278.9 206.5h.01M270.6 218.4h.01M275.2 216.4h.01M272.5 217.1h.01M272.1 218.9h.01M270.0 201.6h.01M276.0 212.7h.01M278.4 199.2h.01M279.3 205.7h.01M277.3 197.7h.01M280.6 218.7h.01M281.1 197.1h.01M270.0 206.7h.01M268.3 222.0h.01M268.9 219.9h.01M277.7 201.7h.01M265.7 219.1h.01M280.8 218.2h.01M268.4 214.7h.01M276.8 213.7h.01M273.3 239.1h.01M273.7 207.0h.01M272.9 195.1h.01M270.5 209.4h.01M271.7 224.7h.01M255.4 229.7h.01M266.9 224.0h.01M272.4 216.2h.01M283.6 223.1h.01M266.2 221.1h.01M270.7 218.0h.01M268.3 224.0h.01M268.0 211.9h.01M267.9 214.1h.01M275.0 210.2h.01M272.4 216.9h.01M276.5 208.4h.01M273.4 211.9h.01M273.4 209.6h.01M270.3 221.5h.01M264.8 209.4h.01M280.7 207.1h.01M267.8 197.8h.01M269.5 219.8h.01M278.2 218.3h.01M273.9 210.7h.01M266.1 211.7h.01M269.4 216.2h.01M281.2 207.4h.01M276.8 216.1h.01M268.1 214.5h.01M271.3 207.1h.01M272.8 220.3h.01M264.3 223.3h.01M269.8 213.0h.01M270.2 215.0h.01M274.2 225.0h.01M280.8 202.9h.01M283.6 206.4h.01M272.8 216.2h.01M282.1 202.1h.01M275.6 217.5h.01M270.9 229.9h.01M272.7 218.9h.01M276.0 212.6h.01M278.7 193.8h.01M268.9 218.6h.01M276.7 219.2h.01M273.7 207.4h.01M278.0 223.6h.01M274.2 207.9h.01M272.2 205.0h.01M268.9 218.5h.01M273.4 239.3h.01M268.3 205.5h.01M279.7 206.8h.01M276.3 216.4h.01M274.2 215.4h.01M278.4 222.3h.01M270.7 207.6h.01M274.6 212.9h.01M260.4 214.0h.01M281.7 204.6h.01M270.4 201.9h.01M274.6 210.7h.01M268.1 216.6h.01M284.5 201.4h.01M280.9 207.1h.01M273.5 220.2h.01M272.1 213.3h.01M284.8 218.3h.01M271.2 224.5h.01M276.2 212.2h.01M272.7 202.6h.01M271.7 199.2h.01M276.9 200.7h.01M271.8 244.7h.01M275.3 222.4h.01M282.6 206.2h.01M271.2 218.7h.01M277.3 229.2h.01M281.5 197.5h.01M267.1 225.8h.01M267.0 215.6h.01M278.0 222.8h.01M272.9 233.6h.01M271.0 229.1h.01M281.6 215.7h.01M279.6 208.1h.01M277.9 208.0h.01M261.2 215.9h.01M273.9 217.8h.01M274.4 208.5h.01M278.7 205.1h.01M278.7 201.8h.01M266.9 209.4h.01M272.3 200.8h.01M275.7 217.4h.01M266.3 223.0h.01M270.0 220.4h.01M269.7 212.9h.01M273.9 214.1h.01M271.5 225.5h.01M269.0 213.5h.01M278.6 219.0h.01M273.3 201.8h.01M273.6 211.1h.01M276.2 215.2h.01M271.0 203.6h.01M272.3 213.3h.01M276.0 217.2h.01M272.1 217.3h.01M282.4 206.0h.01M282.1 219.8h.01M270.1 203.3h.01M270.9 216.2h.01M274.7 207.6h.01M272.2 218.6h.01M273.5 217.9h.01M271.9 212.5h.01M282.3 195.8h.01M270.8 216.1h.01M265.7 198.2h.01M270.6 207.1h.01M269.9 206.9h.01M274.1 213.3h.01M277.1 209.8h.01M275.6 208.3h.01M271.9 210.4h.01M268.1 218.9h.01M269.8 221.8h.01M281.9 219.1h.01M274.7 202.1h.01M272.4 205.0h.01M264.9 204.2h.01M272.2 213.1h.01M274.3 217.7h.01M275.2 205.5h.01M268.5 216.6h.01M276.5 219.1h.01M267.3 199.1h.01M263.6 224.2h.01M269.7 217.6h.01M276.6 213.7h.01M274.4 210.5h.01M272.1 204.0h.01M274.7 212.1h.01M279.5 215.6h.01M275.2 215.6h.01M275.6 229.7h.01M278.2 223.1h.01M269.8 202.1h.01M268.8 213.9h.01M270.4 209.0h.01M275.0 213.3h.01M277.2 209.2h.01M277.3 198.1h.01M273.6 213.9h.01M278.9 223.3h.01M268.2 228.0h.01M271.5 199.7h.01M274.0 213.5h.01M283.6 224.7h.01M273.3 200.0h.01M281.5 218.3h.01M272.2 204.4h.01M274.2 213.2h.01M267.5 226.2h.01M261.6 223.7h.01M273.5 232.4h.01M269.3 203.9h.01M284.1 212.1h.01M276.7 232.0h.01M278.7 220.4h.01M277.0 218.1h.01M279.9 206.0h.01M272.7 208.9h.01M280.6 206.8h.01M272.5 204.0h.01M272.1 227.4h.01M268.1 211.2h.01M276.2 206.2h.01M262.1 198.2h.01M275.1 221.8h.01M283.8 217.4h.01M281.2 220.3h.01M273.8 214.7h.01M273.2 200.7h.01M267.9 211.4h.01M273.9 216.9h.01M266.3 209.9h.01M269.2 219.4h.01M271.3 218.6h.01M269.1 207.0h.01M280.1 209.7h.01M271.1 209.7h.01M275.9 222.2h.01M273.7 214.9h.01M272.2 215.1h.01M276.3 198.9h.01M270.9 210.2h.01M273.0 203.6h.01M268.5 220.7h.01M270.9 202.5h.01M275.6 219.8h.01M279.9 207.8h.01M264.5 227.2h.01M275.8 211.8h.01M262.9 211.6h.01M272.3 210.0h.01M276.3 209.4h.01M277.1 208.2h.01M272.7 207.6h.01M269.8 225.3h.01M266.6 219.2h.01M275.2 210.6h.01M270.0 218.7h.01M269.5 212.9h.01M274.9 210.2h.01M265.1 211.0h.01M270.1 207.9h.01M271.3 190.5h.01M269.2 221.0h.01M265.4 208.6h.01M267.4 201.8h.01M276.7 204.7h.01M269.9 214.6h.01M277.4 210.2h.01M277.4 216.9h.01M264.7 231.6h.01M274.7 206.2h.01M279.5 209.9h.01M263.2 224.3h.01M271.6 209.5h.01M275.3 214.6h.01M271.3 232.5h.01M284.7 208.8h.01M264.5 207.4h.01M284.1 198.1h.01M274.5 222.9h.01M273.8 229.3h.01M281.5 216.4h.01M278.5 216.9h.01M278.7 222.1h.01M267.2 215.2h.01M274.7 215.2h.01M275.4 219.7h.01M272.1 221.6h.01M260.4 205.9h.01M267.6 210.9h.01M264.9 217.7h.01M271.6 197.9h.01M265.8 224.4h.01M276.7 215.0h.01M270.3 208.1h.01M280.5 219.6h.01M277.9 208.5h.01M275.4 201.2h.01M264.4 225.3h.01M268.6 226.1h.01M283.5 211.8h.01M274.6 207.1h.01M267.5 228.6h.01M270.9 215.2h.01M267.1 221.4h.01M274.9 219.8h.01M269.0 205.0h.01M273.9 208.9h.01M270.2 212.7h.01M283.6 222.2h.01M282.0 210.0h.01M271.9 214.3h.01M282.7 216.7h.01M268.6 204.3h.01M270.3 203.4h.01M270.8 202.7h.01M273.1 218.1h.01M267.5 216.9h.01M282.3 217.4h.01M276.3 208.8h.01M277.9 220.8h.01M280.5 216.7h.01M267.8 211.7h.01M276.9 216.6h.01M271.1 229.1h.01M274.0 216.8h.01M270.6 200.9h.01M280.3 221.3h.01M277.5 212.7h.01M266.3 220.5h.01M276.9 217.5h.01M269.8 223.5h.01M269.2 196.2h.01M276.2 203.5h.01M276.9 219.3h.01M271.1 215.0h.01M277.0 220.3h.01M271.6 208.2h.01M278.5 214.0h.01M282.1 212.2h.01M280.2 221.5h.01M271.1 214.4h.01M266.1 221.2h.01M264.3 225.0h.01M273.1 206.4h.01M261.6 222.8h.01M271.3 210.8h.01M270.4 217.2h.01M272.4 225.5h.01M269.3 238.1h.01M267.7 210.3h.01M271.7 210.4h.01M271.4 203.7h.01M271.5 211.9h.01M265.1 213.0h.01M270.5 222.3h.01M274.8 211.8h.01M266.5 218.6h.01M276.7 220.6h.01M279.2 211.3h.01M270.5 219.6h.01M269.8 222.4h.01M269.3 222.8h.01M268.0 204.0h.01M274.9 208.1h.01M278.6 216.0h.01M270.3 216.1h.01M267.9 214.5h.01M269.8 209.3h.01M271.9 215.8h.01M276.4 222.1h.01M279.5 232.4h.01M281.7 234.3h.01M275.7 204.7h.01M267.7 216.9h.01M270.8 219.7h.01M269.7 220.4h.01M276.2 201.7h.01M285.4 198.2h.01M271.2 225.0h.01M271.2 217.5h.01M274.0 211.2h.01M269.7 231.5h.01M278.3 212.2h.01M280.0 208.4h.01M278.0 207.0h.01M275.1 198.9h.01M262.5 196.5h.01M273.8 223.8h.01M273.7 215.3h.01M265.0 215.9h.01M279.2 207.6h.01M266.8 204.2h.01M273.8 209.8h.01M282.4 224.2h.01M275.0 220.9h.01M272.9 205.0h.01M272.1 210.5h.01M270.1 216.6h.01M272.5 208.1h.01M279.7 212.6h.01M276.3 208.0h.01M283.0 209.6h.01M280.4 209.4h.01M275.9 205.9h.01M271.7 209.2h.01M273.9 220.0h.01M282.4 206.9h.01M279.1 226.7h.01M268.6 211.7h.01M271.5 216.9h.01M274.8 195.5h.01M283.5 224.5h.01M269.2 216.0h.01M273.7 217.9h.01M275.2 198.8h.01M272.6 211.1h.01M277.5 204.3h.01M276.9 199.7h.01M274.1 225.2h.01M264.9 212.3h.01M270.3 208.0h.01M276.0 212.2h.01M280.3 213.6h.01M274.8 218.0h.01M273.5 208.7h.01M272.2 220.4h.01M279.1 202.4h.01M272.0 220.6h.01M281.5 207.3h.01M273.7 215.3h.01M272.9 209.3h.01M270.5 205.0h.01M278.8 212.1h.01M280.2 200.0h.01M274.6 218.9h.01M263.2 201.0h.01M278.9 208.5h.01M271.0 210.6h.01M273.0 222.8h.01M273.2 210.2h.01M267.3 207.9h.01M272.2 222.9h.01M284.7 221.4h.01M283.1 207.3h.01M273.5 222.1h.01M266.3 218.4h.01M274.8 209.6h.01M271.3 205.8h.01M274.5 226.4h.01M275.8 215.0h.01M275.6 222.9h.01M278.4 211.8h.01M271.9 219.9h.01M276.9 212.8h.01M268.8 208.9h.01M265.6 217.1h.01M274.1 207.8h.01M263.3 223.7h.01M281.9 206.3h.01M269.3 211.6h.01M276.4 223.0h.01M273.3 193.4h.01M274.3 225.5h.01M275.1 221.0h.01M270.0 227.3h.01M278.0 230.5h.01M268.5 217.5h.01M267.2 215.6h.01M272.2 218.8h.01M264.5 209.7h.01M279.4 219.6h.01M276.1 206.3h.01M268.4 221.3h.01M271.5 222.8h.01M276.7 216.1h.01M269.2 229.8h.01M273.1 228.9h.01M271.0 217.5h.01M272.0 220.3h.01M277.7 207.4h.01M274.6 219.8h.01M275.2 210.0h.01M276.9 207.8h.01M273.2 214.0h.01M270.9 211.2h.01M276.2 212.6h.01M272.8 205.4h.01M269.8 201.5h.01M271.9 214.8h.01M276.7 195.0h.01M277.4 209.7h.01M277.8 211.2h.01M267.7 229.0h.01M260.9 211.9h.01M266.3 217.0h.01M268.8 211.4h.01M272.0 219.0h.01M260.2 227.2h.01M276.2 207.0h.01M274.9 214.9h.01M273.4 211.8h.01M265.9 231.2h.01M271.9 235.1h.01M272.2 208.9h.01M274.2 230.8h.01M276.3 210.0h.01M274.1 239.6h.01M268.7 220.8h.01M275.1 216.5h.01M277.9 220.2h.01M275.0 211.4h.01M278.8 210.0h.01M263.6 223.3h.01M279.5 201.2h.01M262.4 209.4h.01M271.6 211.9h.01M270.6 220.2h.01M269.1 205.5h.01M267.3 217.1h.01M268.0 217.4h.01M269.8 217.1h.01M279.6 207.2h.01M274.5 212.7h.01M267.6 217.7h.01M266.2 199.8h.01M270.0 207.9h.01M277.6 219.4h.01M270.7 211.0h.01M273.4 216.7h.01M271.5 222.7h.01M271.9 222.0h.01M275.4 202.6h.01M265.8 225.7h.01M271.6 201.5h.01M279.3 204.6h.01M280.2 211.8h.01M275.6 211.2h.01M265.7 198.1h.01M264.6 235.6h.01M274.3 200.0h.01M280.0 207.3h.01M257.8 227.3h.01M278.2 210.8h.01M279.6 216.7h.01M271.7 205.5h.01M275.1 214.7h.01M273.0 206.1h.01M265.6 224.9h.01M262.8 227.2h.01M271.3 218.1h.01M262.5 225.3h.01M275.3 214.3h.01M276.1 219.7h.01M269.2 229.8h.01M262.1 210.3h.01M265.5 221.1h.01M272.5 201.3h.01M268.4 215.4h.01M276.9 227.2h.01M275.7 210.6h.01M274.4 197.1h.01M271.1 205.2h.01M277.4 211.4h.01M268.9 219.7h.01M270.4 220.5h.01M278.8 221.6h.01M270.2 200.4h.01M267.4 203.7h.01M276.1 209.5h.01M272.2 226.8h.01M268.6 225.2h.01M273.7 206.5h.01M270.0 205.3h.01M273.5 209.2h.01M273.1 220.2h.01M279.6 219.7h.01M265.1 223.3h.01M275.1 212.6h.01M267.9 213.9h.01M268.4 210.5h.01M271.2 228.5h.01M289.2 222.9h.01M278.4 208.2h.01M277.9 201.7h.01M272.6 219.3h.01M269.2 202.8h.01M276.9 203.6h.01M265.6 207.3h.01M271.2 204.2h.01M267.8 218.6h.01M268.3 212.0h.01M276.9 210.7h.01M271.8 217.1h.01M276.5 215.4h.01M273.1 195.2h.01M268.7 200.3h.01M273.3 217.2h.01M276.3 212.8h.01M267.9 224.2h.01M273.2 215.8h.01M274.5 188.7h.01M276.4 211.4h.01M272.8 219.5h.01M267.4 197.7h.01M270.4 207.7h.01M279.6 200.6h.01M271.3 214.2h.01M274.8 206.3h.01M276.8 217.6h.01M271.4 212.5h.01M280.2 220.5h.01M270.7 222.1h.01M272.3 194.6h.01M273.2 213.9h.01M278.6 207.9h.01M270.9 211.8h.01M275.4 207.2h.01M273.5 223.2h.01M277.0 212.6h.01M266.0 211.7h.01M275.3 212.6h.01M265.1 203.9h.01M278.5 217.5h.01M272.1 223.9h.01M276.3 206.9h.01M281.0 207.0h.01M274.4 228.4h.01M269.3 219.0h.01M256.5 223.9h.01M275.3 202.8h.01M277.1 217.5h.01M277.6 214.9h.01M271.7 209.3h.01M271.5 213.8h.01M271.3 209.7h.01M273.3 226.6h.01M268.3 219.6h.01M272.0 213.3h.01M277.3 218.0h.01M270.4 214.9h.01M268.3 208.7h.01M273.2 224.1h.01M282.8 206.7h.01M274.9 227.8h.01M277.3 216.5h.01M272.3 213.6h.01M263.0 208.4h.01M275.1 204.1h.01M263.4 220.5h.01M259.6 216.8h.01M262.5 211.4h.01M267.7 251.5h.01M267.7 223.5h.01M266.7 230.8h.01M280.2 229.2h.01M277.0 212.4h.01M283.7 235.7h.01M271.9 214.8h.01M285.8 234.6h.01M269.3 225.0h.01M268.1 220.1h.01M276.6 219.2h.01M260.9 236.8h.01M278.3 233.3h.01M277.1 214.8h.01M259.5 217.7h.01M272.9 229.1h.01M266.7 214.3h.01M263.6 198.3h.01M261.9 203.1h.01M271.5 224.4h.01M274.8 213.7h.01M283.9 205.3h.01M285.0 219.2h.01M258.2 225.4h.01M260.9 227.4h.01M278.1 233.7h.01M273.1 215.1h.01M266.9 224.8h.01M280.5 220.8h.01M292.3 216.4h.01M272.6 228.0h.01M263.2 215.8h.01M264.7 217.4h.01M272.4 195.9h.01M270.2 201.7h.01M269.2 210.8h.01M287.2 204.6h.01M280.6 211.6h.01M266.5 213.1h.01M279.2 228.5h.01M276.1 214.0h.01M269.4 221.7h.01M279.4 209.1h.01M272.1 233.0h.01M279.7 223.4h.01M269.7 224.3h.01M271.7 221.9h.01M278.2 233.4h.01M270.0 213.8h.01M271.4 212.2h.01M268.4 219.9h.01M275.3 235.1h.01M272.8 217.1h.01M275.4 213.5h.01M277.7 223.0h.01M269.9 210.6h.01M272.1 222.8h.01M271.8 199.8h.01M257.3 197.1h.01M283.6 225.6h.01M279.8 231.6h.01M282.6 209.1h.01M263.2 228.3h.01M283.5 225.5h.01M273.6 229.0h.01M270.8 192.6h.01M278.2 226.6h.01M272.9 220.6h.01M272.2 216.4h.01M275.4 207.6h.01M268.2 217.6h.01M262.4 220.2h.01M278.1 217.5h.01M276.0 228.2h.01M282.2 219.2h.01M267.3 214.2h.01M258.5 223.6h.01M269.0 227.7h.01M266.0 224.9h.01M272.2 231.1h.01M272.5 219.6h.01M272.5 219.2h.01M266.6 221.1h.01M270.7 233.9h.01M263.2 217.9h.01M278.3 223.0h.01M272.8 232.8h.01M264.2 218.7h.01M280.7 216.8h.01M272.2 249.8h.01M286.0 234.1h.01M261.4 212.2h.01M268.2 231.7h.01M267.3 233.4h.01M268.6 214.8h.01M275.4 215.0h.01M270.3 216.5h.01M274.8 233.7h.01M279.7 233.6h.01M284.4 204.9h.01M278.4 230.6h.01M281.9 215.4h.01M265.2 224.6h.01M269.2 224.1h.01M272.2 239.1h.01M278.7 213.5h.01M271.4 219.7h.01M276.8 231.4h.01M276.0 208.5h.01M273.4 219.8h.01M278.8 212.8h.01M266.2 227.1h.01M269.7 223.5h.01M269.1 217.6h.01M263.3 232.4h.01M278.9 197.2h.01M266.0 214.7h.01M289.1 224.8h.01M277.7 193.7h.01M266.7 225.3h.01M279.1 214.8h.01M278.7 225.6h.01M273.5 236.7h.01M276.7 218.2h.01M274.8 218.5h.01M288.2 211.5h.01M272.9 230.1h.01M261.5 211.3h.01M278.0 212.5h.01M263.4 230.9h.01M272.1 219.9h.01M271.8 215.7h.01M266.6 219.0h.01M270.8 222.4h.01M276.2 220.9h.01M283.3 216.0h.01M271.7 210.7h.01M280.1 199.4h.01M284.4 237.1h.01M275.9 230.6h.01M286.4 210.1h.01M276.9 231.3h.01M280.2 227.4h.01M268.7 235.0h.01M282.6 214.1h.01M279.0 190.8h.01M275.6 223.9h.01M271.2 228.8h.01M287.7 209.5h.01M289.0 221.9h.01M258.5 224.3h.01M274.5 208.3h.01M275.4 228.5h.01M261.6 225.5h.01M267.9 208.0h.01M270.0 222.7h.01M268.5 228.5h.01M275.0 233.9h.01M266.7 209.5h.01M276.1 221.8h.01M278.6 210.1h.01M284.4 218.1h.01M273.5 216.2h.01M280.9 232.1h.01M277.3 235.8h.01M274.8 222.7h.01M272.8 230.4h.01M271.3 223.9h.01M286.0 227.4h.01M278.2 237.6h.01M257.4 224.1h.01M274.9 206.2h.01M277.0 229.9h.01M270.8 217.6h.01M278.0 221.3h.01M267.7 218.0h.01M283.2 227.3h.01M277.1 205.7h.01M265.3 209.6h.01M273.6 201.4h.01M277.6 225.5h.01M280.8 228.5h.01M262.1 220.9h.01M269.4 234.2h.01M279.8 214.7h.01M272.4 222.7h.01M277.0 221.4h.01M273.9 217.3h.01M279.2 225.1h.01M270.1 211.5h.01M276.0 226.0h.01M273.6 236.8h.01M269.5 214.2h.01M266.1 209.4h.01M269.1 207.9h.01M283.0 238.5h.01M260.7 221.8h.01M266.2 221.7h.01M284.4 232.2h.01M266.9 217.0h.01M278.0 229.0h.01M271.9 215.0h.01M287.3 220.2h.01M288.7 211.0h.01M283.9 223.3h.01M278.0 222.3h.01M277.2 207.6h.01M265.8 216.0h.01M270.6 222.8h.01M281.7 235.4h.01M273.2 213.5h.01M272.2 210.5h.01M274.3 209.1h.01M272.1 248.5h.01M265.1 214.2h.01M276.9 217.5h.01M275.5 203.4h.01M258.6 225.4h.01M290.3 210.4h.01M267.0 214.7h.01M276.9 227.8h.01M266.9 235.7h.01M263.5 219.2h.01M280.0 215.8h.01M280.9 239.7h.01M262.1 218.3h.01M271.7 231.9h.01M276.9 209.7h.01M269.0 213.7h.01M271.5 207.1h.01M271.4 226.6h.01M277.3 222.7h.01M257.2 214.5h.01M249.9 206.7h.01M273.0 213.2h.01M279.6 214.0h.01M289.5 233.6h.01M256.8 225.6h.01M280.3 238.2h.01M273.3 229.9h.01M264.4 228.7h.01M280.6 219.7h.01M270.2 205.2h.01M256.3 230.5h.01M272.1 222.8h.01M266.4 218.2h.01M276.7 210.7h.01M269.0 226.3h.01M282.5 238.1h.01M275.8 207.9h.01M283.0 229.5h.01M274.2 227.6h.01M272.5 232.3h.01M269.4 227.1h.01M266.9 189.7h.01M271.6 224.2h.01M274.5 223.3h.01M282.2 220.5h.01M265.6 197.5h.01M271.3 233.5h.01M284.4 211.7h.01M260.8 204.0h.01M268.9 218.8h.01M263.2 206.8h.01M266.1 205.3h.01M268.6 211.7h.01M281.0 229.2h.01M268.6 206.1h.01M275.8 202.6h.01M261.6 209.6h.01M264.4 217.2h.01M275.0 202.2h.01M285.6 217.8h.01M260.8 203.9h.01M280.8 231.4h.01M275.9 228.4h.01M262.9 221.3h.01M265.5 229.1h.01M268.7 222.4h.01M277.6 224.4h.01M266.6 229.9h.01M270.7 230.0h.01M276.4 210.9h.01M277.9 229.6h.01M274.8 216.1h.01M277.4 243.6h.01M262.5 223.9h.01M278.1 229.5h.01M269.2 240.2h.01M277.8 207.4h.01M270.7 229.1h.01M263.6 239.7h.01M264.6 241.3h.01M269.5 228.2h.01M272.0 227.4h.01M265.6 239.9h.01M264.1 241.5h.01M266.6 240.9h.01M269.2 227.1h.01M269.0 230.2h.01M267.1 235.3h.01M263.7 244.3h.01M272.0 232.0h.01M270.8 234.2h.01M268.7 235.4h.01M271.7 226.4h.01M268.4 237.6h.01M274.4 225.2h.01M266.9 229.0h.01M274.2 226.1h.01M274.9 227.2h.01M259.2 242.7h.01M268.4 240.4h.01M264.0 238.4h.01M265.3 240.7h.01M262.5 242.3h.01M271.1 224.9h.01M271.7 229.7h.01M271.5 233.5h.01M260.8 240.3h.01M268.0 236.4h.01M264.1 237.6h.01M272.9 226.2h.01M266.7 235.8h.01M266.8 235.3h.01M268.1 231.2h.01M263.3 244.7h.01M263.9 241.6h.01M265.4 240.2h.01M271.1 232.5h.01M265.1 234.6h.01M265.6 228.8h.01M270.2 228.2h.01M262.0 241.6h.01M269.3 229.8h.01M271.1 231.5h.01M266.5 232.0h.01M271.8 228.5h.01M269.5 235.5h.01M265.3 238.2h.01M267.1 235.0h.01M268.3 239.1h.01M270.4 230.4h.01M264.3 245.7h.01M270.1 225.3h.01M263.4 240.8h.01M266.3 234.9h.01M268.8 229.6h.01M268.9 230.6h.01M264.7 232.3h.01M263.7 242.9h.01M270.6 229.7h.01M266.8 235.6h.01M260.9 240.0h.01M264.6 241.1h.01M263.4 237.2h.01M269.5 231.3h.01M264.6 242.6h.01M264.1 243.1h.01M264.3 241.6h.01M268.1 227.4h.01M272.7 229.4h.01M264.3 240.9h.01M271.4 233.1h.01M266.4 241.5h.01M271.3 229.2h.01M269.3 231.6h.01M267.3 241.5h.01M265.6 243.0h.01M265.3 246.8h.01M263.1 238.3h.01M267.0 225.8h.01M264.0 243.9h.01M261.0 239.3h.01M270.1 228.0h.01M268.9 232.7h.01M274.0 232.2h.01M262.9 241.9h.01M264.3 234.1h.01M270.8 234.6h.01M250.8 228.3h.01M236.6 233.2h.01M247.4 245.9h.01M241.7 255.0h.01M261.5 219.4h.01M252.0 226.4h.01M251.6 228.5h.01M256.8 252.2h.01M256.3 236.5h.01M246.8 224.6h.01M248.8 250.2h.01M249.1 236.6h.01M261.9 247.6h.01M261.5 237.8h.01M262.3 229.4h.01M262.7 235.9h.01M246.3 224.5h.01M247.1 240.9h.01M257.9 229.1h.01M253.5 233.9h.01M248.7 242.7h.01M254.5 235.8h.01M258.2 235.5h.01M259.3 221.8h.01M252.2 223.0h.01M256.2 229.0h.01M237.4 238.0h.01M247.3 238.2h.01M259.7 236.2h.01M256.5 235.7h.01M238.3 228.2h.01M256.8 244.9h.01M251.8 237.0h.01M248.3 232.8h.01M254.9 228.8h.01M251.1 234.0h.01M241.9 241.1h.01M262.4 247.8h.01M260.8 222.0h.01M252.0 234.6h.01M254.7 220.5h.01M260.5 232.1h.01M258.8 245.3h.01M251.7 229.5h.01M242.0 228.4h.01M257.4 237.5h.01M248.0 249.2h.01M251.7 232.3h.01M256.7 246.6h.01M256.8 233.8h.01M256.4 238.3h.01M263.0 229.6h.01M242.5 228.1h.01M254.8 245.4h.01M253.3 237.1h.01M256.4 240.9h.01M250.1 232.3h.01M256.2 223.1h.01M254.9 235.2h.01M262.7 236.5h.01M251.6 233.6h.01M255.4 225.4h.01M258.2 236.4h.01M254.7 233.3h.01M252.1 230.8h.01M250.5 226.6h.01M253.1 242.4h.01M258.0 225.5h.01M259.3 233.2h.01M250.4 243.9h.01M257.4 235.5h.01M257.0 243.6h.01M256.3 219.9h.01M255.0 226.9h.01M254.3 237.2h.01M259.6 238.6h.01M255.7 237.6h.01M253.0 231.5h.01M260.9 249.4h.01M250.5 235.6h.01M256.1 238.5h.01M248.1 236.5h.01M256.6 236.3h.01M256.9 230.0h.01M245.0 233.3h.01M252.9 223.8h.01M248.7 219.5h.01M258.9 208.5h.01M257.7 227.3h.01M238.0 228.9h.01M260.8 228.5h.01M262.0 223.8h.01M257.8 250.9h.01M252.8 223.8h.01M254.6 224.0h.01M255.2 227.7h.01M252.2 243.1h.01M257.6 233.5h.01M247.3 228.8h.01M246.9 241.1h.01M261.7 234.2h.01M260.6 238.7h.01M240.2 251.7h.01M247.6 244.8h.01M257.1 234.9h.01M245.5 219.2h.01M246.3 233.3h.01M261.7 232.2h.01M261.8 228.0h.01M261.0 236.1h.01M255.3 235.2h.01M258.6 235.0h.01M245.8 230.1h.01M250.7 227.1h.01M261.6 236.2h.01M254.6 234.7h.01M242.5 225.4h.01M259.4 231.8h.01M255.4 221.3h.01M260.8 222.9h.01M257.8 228.0h.01M244.1 228.9h.01M256.7 245.0h.01M245.0 211.8h.01M250.5 254.6h.01M256.2 244.6h.01M261.0 242.0h.01M255.7 246.9h.01M249.2 227.6h.01M259.2 233.7h.01M236.8 242.8h.01M243.6 231.1h.01M255.6 245.7h.01M263.0 223.5h.01M236.4 223.1h.01M248.6 223.7h.01M262.1 228.3h.01M258.1 250.9h.01M244.3 231.3h.01M251.5 240.0h.01M255.6 232.2h.01M252.3 232.5h.01M258.2 227.8h.01M256.4 233.6h.01M258.3 229.1h.01M262.5 224.1h.01M254.4 235.2h.01M225.0 244.8h.01M261.5 234.0h.01M259.8 233.1h.01M258.7 239.4h.01M255.6 246.2h.01M251.9 242.3h.01M253.6 246.5h.01M258.5 239.9h.01M262.8 223.8h.01M244.9 225.7h.01M261.9 243.5h.01M252.2 226.6h.01M257.2 223.4h.01M252.5 245.7h.01M260.9 227.3h.01M254.0 235.7h.01M261.3 226.3h.01M237.2 246.0h.01M246.0 224.1h.01M257.0 224.5h.01M252.0 234.7h.01M262.5 235.6h.01M245.9 230.2h.01M242.5 214.6h.01M257.2 216.0h.01M262.4 215.0h.01M258.7 241.2h.01M245.6 215.0h.01M253.6 221.4h.01M250.9 246.1h.01M261.1 242.6h.01M255.0 229.9h.01M262.7 248.6h.01M239.6 217.7h.01M238.5 238.6h.01M254.5 230.4h.01M245.3 224.9h.01M251.1 234.2h.01M261.8 226.0h.01M257.9 227.7h.01M248.9 224.2h.01M252.6 228.6h.01M257.7 228.8h.01M245.6 238.6h.01M244.8 234.3h.01M256.7 248.5h.01M261.2 230.4h.01M244.8 236.5h.01M254.6 237.6h.01M239.6 236.4h.01M256.8 231.6h.01M251.3 231.7h.01M256.8 245.5h.01M262.1 229.0h.01M260.6 229.5h.01M249.0 242.7h.01M243.8 244.9h.01M253.7 223.4h.01M262.8 233.4h.01M254.4 242.1h.01M251.3 223.8h.01M261.5 238.2h.01M257.4 230.5h.01M256.5 231.4h.01M246.8 226.0h.01M247.8 239.5h.01M251.0 220.9h.01M240.6 226.4h.01M243.8 228.3h.01M257.0 232.8h.01M259.5 236.3h.01M240.2 228.0h.01M253.5 232.2h.01M260.7 242.8h.01M252.5 242.8h.01M256.0 228.1h.01M255.6 240.8h.01M262.6 232.8h.01M238.4 238.9h.01M250.3 233.2h.01M256.1 232.3h.01M244.4 233.4h.01M255.3 235.2h.01M260.9 232.0h.01M253.2 225.8h.01M251.4 238.4h.01M261.5 226.0h.01M245.8 228.4h.01M262.8 229.1h.01M256.1 239.0h.01M259.7 222.2h.01M257.5 252.7h.01M257.3 228.7h.01M250.5 223.6h.01M260.3 233.1h.01M258.0 239.4h.01M257.7 240.7h.01M257.9 240.7h.01M234.0 227.0h.01M253.0 246.7h.01M248.8 233.2h.01M258.9 232.4h.01M225.5 241.2h.01M260.3 224.0h.01M251.7 232.6h.01M254.9 236.7h.01M251.3 228.2h.01M243.1 220.0h.01M252.6 238.8h.01M248.8 228.9h.01M257.4 230.1h.01M249.9 250.3h.01M262.4 252.5h.01M260.4 231.9h.01M249.0 242.8h.01M248.6 228.7h.01M245.7 227.2h.01M258.7 239.3h.01M262.3 241.5h.01M260.9 232.9h.01M260.8 230.6h.01M262.4 236.9h.01M251.1 228.4h.01M249.5 237.1h.01M254.7 228.4h.01M258.5 228.9h.01M243.5 227.4h.01M230.1 227.4h.01M244.9 224.7h.01M255.4 230.5h.01M253.8 236.0h.01M246.3 221.2h.01M253.7 232.8h.01M262.8 244.8h.01M256.8 230.5h.01M243.6 238.6h.01M261.2 226.6h.01M247.9 240.0h.01M251.6 220.0h.01M262.5 249.6h.01M261.6 231.5h.01M250.7 243.3h.01M256.9 229.1h.01M259.2 240.2h.01M257.6 219.0h.01M262.0 222.8h.01M258.3 238.9h.01M262.4 226.7h.01M253.1 226.4h.01M245.4 225.8h.01M249.5 241.8h.01M242.8 249.6h.01M254.7 224.4h.01M256.2 241.9h.01M253.1 246.1h.01M246.5 230.2h.01M255.0 231.9h.01M242.9 237.8h.01M243.0 245.5h.01M262.7 218.4h.01M253.9 226.2h.01M252.4 233.4h.01M243.8 242.0h.01M260.2 245.2h.01M261.9 232.9h.01M240.9 237.6h.01M248.5 225.3h.01M262.5 215.6h.01M252.9 227.9h.01M260.9 220.4h.01M237.4 233.8h.01M252.6 232.3h.01M257.1 215.5h.01M234.2 233.9h.01M251.8 229.8h.01M258.8 241.3h.01M261.5 232.8h.01M243.6 236.9h.01M262.5 230.8h.01M262.6 232.9h.01M262.2 223.8h.01M242.4 216.5h.01M237.7 239.9h.01M253.5 230.9h.01M255.6 236.5h.01M254.5 218.7h.01M242.9 225.1h.01M259.5 238.0h.01M256.9 229.9h.01M251.9 219.3h.01M242.4 229.9h.01M235.7 235.8h.01M230.7 225.0h.01M252.6 250.5h.01M233.6 242.7h.01M217.7 247.2h.01M245.6 236.4h.01M246.6 247.2h.01M239.2 213.5h.01M244.3 228.3h.01M251.5 214.1h.01M239.3 216.7h.01M240.7 212.6h.01M256.3 228.4h.01M222.6 246.2h.01M254.2 243.9h.01M246.5 238.7h.01M248.6 231.5h.01M218.5 222.3h.01M230.0 217.4h.01M227.0 241.2h.01M252.9 242.3h.01M221.3 213.6h.01M250.0 247.6h.01M227.5 247.1h.01M227.4 239.9h.01M252.1 212.7h.01M257.5 249.6h.01M257.6 237.6h.01M223.1 225.5h.01M248.1 234.6h.01M228.3 252.7h.01M239.3 225.7h.01M239.4 224.6h.01M237.5 223.2h.01M255.4 219.2h.01M236.0 250.0h.01M250.5 252.3h.01M228.7 229.2h.01M218.3 215.7h.01M249.4 219.0h.01M217.6 244.3h.01M225.0 213.3h.01M239.7 213.8h.01M229.7 231.0h.01M218.0 214.4h.01M221.7 233.1h.01M228.0 224.4h.01M257.8 233.0h.01" stroke="#000" stroke-width="1.12" stroke-linecap="round" fill="none"/>
<path d="M274.0 198.0C283.9 198.0 282.8 201.8 281.8 213.0C281.3 222.0 275.7 232.0 271.7 233.0C268.2 230.0 264.6 222.0 264.6 213.0C264.6 201.8 263.7 198.0 274.0 198.0Z" fill="#000"/>
<rect x="262.60" y="170.75" width="43.15" height="40.65" fill="none" stroke="#1a1a1a" stroke-width="1.1"/>
<rect x="261.30" y="216.30" width="43.40" height="40.60" fill="none" stroke="#1a1a1a" stroke-width="1.1"/>
<rect x="215.20" y="215.00" width="41.50" height="36.00" fill="none" stroke="#1a1a1a" stroke-width="1.1"/>
<text x="278.25" y="165.35" font-size="8.22" text-anchor="start" font-style="italic" textLength="31.9" lengthAdjust="spacingAndGlyphs" stroke="#1a1a1a" stroke-width="0.25" fill="#1a1a1a">Gli1 null</text>
<text x="282.6" y="179.75" font-size="9.98" text-anchor="start" textLength="20.6" lengthAdjust="spacingAndGlyphs" stroke="#111" stroke-width="0.3" fill="#111">MPP</text>
<text x="292.6" y="192.6" font-size="10.4" text-anchor="start" textLength="28.1" lengthAdjust="spacingAndGlyphs" stroke="#111" stroke-width="0.3" fill="#111">30.5%</text>
<text x="219.75" y="213.5" font-size="10.4" text-anchor="start" textLength="22.5" lengthAdjust="spacingAndGlyphs" stroke="#111" stroke-width="0.3" fill="#111">6.2%</text>
<text x="292" y="241.6" font-size="10.4" text-anchor="start" textLength="28.1" lengthAdjust="spacingAndGlyphs" stroke="#111" stroke-width="0.3" fill="#111">45.6%</text>
<text x="216.9" y="250.4" font-size="9.98" text-anchor="start" textLength="30" lengthAdjust="spacingAndGlyphs" stroke="#111" stroke-width="0.3" fill="#111">LT-HSC</text>
<text x="271.75" y="256" font-size="9.98" text-anchor="start" textLength="31.5" lengthAdjust="spacingAndGlyphs" stroke="#111" stroke-width="0.3" fill="#111">ST-HSC</text>
<line x1="202.70" y1="264.50" x2="202.70" y2="144.50" stroke="#222" stroke-width="1"/>
<path d="M199.2 149.6L202.7 144.2L206.2 149.6" fill="none" stroke="#111" stroke-width="1.5" stroke-linejoin="miter"/>
<text x="207.3" y="139" font-size="13.94" text-anchor="start" textLength="21.9" lengthAdjust="spacingAndGlyphs" transform="rotate(-90 207.3 139)" stroke="#111" stroke-width="0.15" fill="#111">Flt3</text>
<line x1="210.50" y1="272.50" x2="259.50" y2="272.50" stroke="#222" stroke-width="1"/>
<path d="M255 268.8L260.3 272.5L255 276.2" fill="none" stroke="#111" stroke-width="1.5" stroke-linejoin="miter"/>
<text x="262.5" y="277.3" font-size="13.0" text-anchor="start" textLength="31.5" lengthAdjust="spacingAndGlyphs" stroke="#111" stroke-width="0.2" fill="#111">CD34</text>
<text x="335.6" y="9.5" font-size="11.96" text-anchor="start" font-weight="bold" fill="#000">D</text>
<text x="344.8" y="144.2" font-size="11.44" text-anchor="middle" textLength="90" lengthAdjust="spacingAndGlyphs" transform="rotate(-90 344.8 144.2)" stroke="#111" stroke-width="0.3" fill="#111">% of bone marrow</text>
<line x1="380.00" y1="8.50" x2="380.00" y2="261.25" stroke="#8f8f8f" stroke-width="0.9"/>
<line x1="380.00" y1="261.25" x2="520.00" y2="261.25" stroke="#8f8f8f" stroke-width="0.9"/>
<line x1="377.00" y1="261.25" x2="380.00" y2="261.25" stroke="#8f8f8f" stroke-width="0.9"/>
<text x="372.2" y="264.2" font-size="7.28" text-anchor="end" textLength="18.5" lengthAdjust="spacingAndGlyphs" stroke="#222" stroke-width="0.15" fill="#222">0.000</text>
<line x1="377.00" y1="177.01" x2="380.00" y2="177.01" stroke="#8f8f8f" stroke-width="0.9"/>
<text x="372.2" y="179.95999999999998" font-size="7.28" text-anchor="end" textLength="18.5" lengthAdjust="spacingAndGlyphs" stroke="#222" stroke-width="0.15" fill="#222">0.040</text>
<line x1="377.00" y1="92.77" x2="380.00" y2="92.77" stroke="#8f8f8f" stroke-width="0.9"/>
<text x="372.2" y="95.72000000000001" font-size="7.28" text-anchor="end" textLength="18.5" lengthAdjust="spacingAndGlyphs" stroke="#222" stroke-width="0.15" fill="#222">0.080</text>
<line x1="377.00" y1="8.53" x2="380.00" y2="8.53" stroke="#8f8f8f" stroke-width="0.9"/>
<text x="372.2" y="11.48" font-size="7.28" text-anchor="end" textLength="18.5" lengthAdjust="spacingAndGlyphs" stroke="#222" stroke-width="0.15" fill="#222">0.120</text>
<line x1="380.00" y1="261.25" x2="380.00" y2="264.25" stroke="#8f8f8f" stroke-width="0.9"/>
<line x1="426.00" y1="261.25" x2="426.00" y2="264.25" stroke="#8f8f8f" stroke-width="0.9"/>
<line x1="471.90" y1="261.25" x2="471.90" y2="264.25" stroke="#8f8f8f" stroke-width="0.9"/>
<line x1="517.50" y1="261.25" x2="517.50" y2="264.25" stroke="#8f8f8f" stroke-width="0.9"/>
<line x1="410.10" y1="236.25" x2="410.10" y2="238.75" stroke="#111" stroke-width="0.9"/>
<line x1="408.00" y1="236.25" x2="412.20" y2="236.25" stroke="#111" stroke-width="0.9"/>
<rect x="390.00" y="250.00" width="13.40" height="11.25" fill="#000"/>
<rect x="403.85" y="239.20" width="12.50" height="22.05" fill="#ababab" stroke="#2a2a2a" stroke-width="0.9"/>
<text x="383.75" y="244.4" font-size="7.07" text-anchor="start" textLength="17" lengthAdjust="spacingAndGlyphs" stroke="#262626" stroke-width="0.1" fill="#262626">0.005</text>
<text x="401.25" y="232.4" font-size="7.07" text-anchor="start" textLength="17" lengthAdjust="spacingAndGlyphs" stroke="#262626" stroke-width="0.1" fill="#262626">0.011</text>
<line x1="442.30" y1="109.25" x2="442.30" y2="118.25" stroke="#111" stroke-width="0.9"/>
<line x1="440.30" y1="109.25" x2="444.30" y2="109.25" stroke="#111" stroke-width="0.9"/>
<line x1="455.70" y1="94.25" x2="455.70" y2="113.00" stroke="#111" stroke-width="0.9"/>
<line x1="453.60" y1="94.25" x2="457.80" y2="94.25" stroke="#111" stroke-width="0.9"/>
<rect x="435.60" y="118.25" width="13.40" height="143.00" fill="#000"/>
<rect x="449.45" y="113.45" width="12.50" height="147.80" fill="#ababab" stroke="#2a2a2a" stroke-width="0.9"/>
<text x="432.5" y="104.9" font-size="7.07" text-anchor="start" textLength="17" lengthAdjust="spacingAndGlyphs" stroke="#262626" stroke-width="0.1" fill="#262626">0.068</text>
<text x="445.5" y="92.9" font-size="7.07" text-anchor="start" textLength="17" lengthAdjust="spacingAndGlyphs" stroke="#262626" stroke-width="0.1" fill="#262626">0.070</text>
<line x1="488.00" y1="174.50" x2="488.00" y2="184.50" stroke="#111" stroke-width="0.9"/>
<line x1="486.00" y1="174.50" x2="490.00" y2="174.50" stroke="#111" stroke-width="0.9"/>
<line x1="501.40" y1="150.50" x2="501.40" y2="162.50" stroke="#111" stroke-width="0.9"/>
<line x1="499.30" y1="150.50" x2="503.50" y2="150.50" stroke="#111" stroke-width="0.9"/>
<rect x="481.30" y="184.50" width="13.40" height="76.75" fill="#000"/>
<rect x="495.15" y="162.95" width="12.50" height="98.30" fill="#ababab" stroke="#2a2a2a" stroke-width="0.9"/>
<text x="476.25" y="171.2" font-size="7.07" text-anchor="start" textLength="17" lengthAdjust="spacingAndGlyphs" stroke="#262626" stroke-width="0.1" fill="#262626">0.036</text>
<text x="493" y="146.4" font-size="7.07" text-anchor="start" textLength="17" lengthAdjust="spacingAndGlyphs" stroke="#262626" stroke-width="0.1" fill="#262626">0.047</text>
<text x="387.25" y="283.7" font-size="10.09" text-anchor="start" font-weight="bold" textLength="30.6" lengthAdjust="spacingAndGlyphs" fill="#000">LT-HSC</text>
<text x="433.1" y="283.7" font-size="10.09" text-anchor="start" font-weight="bold" textLength="31.65" lengthAdjust="spacingAndGlyphs" fill="#000">ST-HSC</text>
<text x="484" y="283.7" font-size="10.09" text-anchor="start" font-weight="bold" textLength="21.6" lengthAdjust="spacingAndGlyphs" fill="#000">MPP</text>
<line x1="391.25" y1="222.00" x2="414.50" y2="222.00" stroke="#111" stroke-width="1.1"/>
<text x="401.75" y="221.6" font-size="10.4" text-anchor="middle" font-weight="bold" stroke="#111" stroke-width="0.2" fill="#111">**</text>
<line x1="436.25" y1="83.40" x2="460.50" y2="83.40" stroke="#111" stroke-width="1.1"/>
<text x="448.4" y="80" font-size="6.76" text-anchor="middle" textLength="8.3" lengthAdjust="spacingAndGlyphs" stroke="#222" stroke-width="0.1" fill="#222">NS</text>
<line x1="483.00" y1="137.00" x2="506.25" y2="137.00" stroke="#111" stroke-width="1.1"/>
<text x="495.6" y="133.3" font-size="6.76" text-anchor="middle" textLength="8.3" lengthAdjust="spacingAndGlyphs" stroke="#222" stroke-width="0.1" fill="#222">NS</text>
<rect x="464.60" y="21.90" width="6.90" height="6.50" fill="#000"/>
<text x="473.8" y="30" font-size="10.61" text-anchor="start" textLength="37" lengthAdjust="spacingAndGlyphs" stroke="#111" stroke-width="0.2" fill="#111">Gli1 WT</text>
<rect x="465.05" y="41.45" width="6.00" height="5.95" fill="#ababab" stroke="#444" stroke-width="0.9"/>
<text x="473.8" y="48.5" font-size="10.61" text-anchor="start" textLength="38.6" lengthAdjust="spacingAndGlyphs" stroke="#111" stroke-width="0.2" fill="#111">Gli1 null</text>
<text x="467" y="60.5" font-size="8.7" fill="#222" textLength="34" lengthAdjust="spacingAndGlyphs">**<tspan font-style="italic">P</tspan> &lt; .01</text>
</svg>
</body></html>
